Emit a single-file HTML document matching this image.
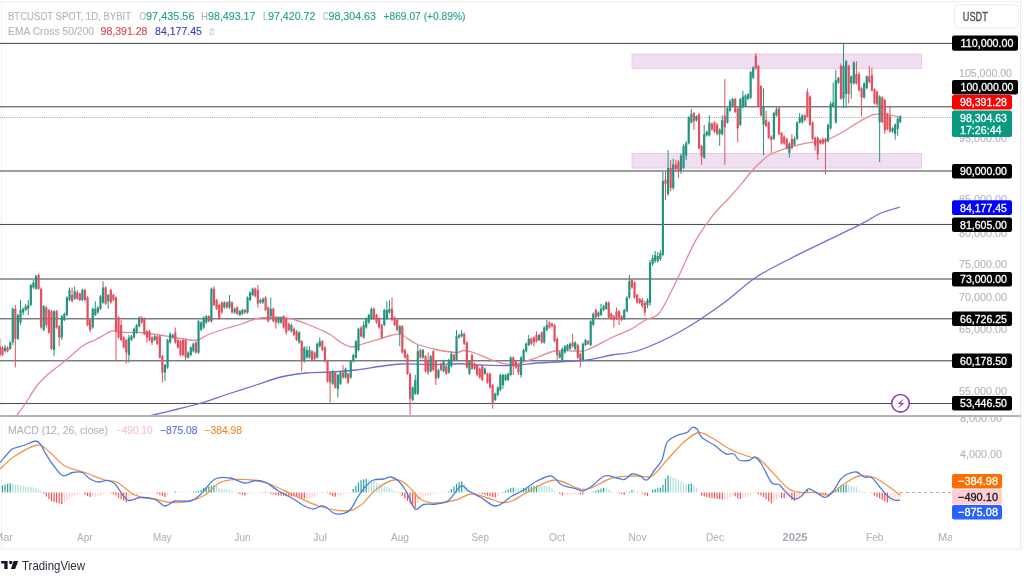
<!DOCTYPE html>
<html><head><meta charset="utf-8"><style>
html,body{margin:0;padding:0;background:#fff;width:1024px;height:576px;overflow:hidden}
svg{display:block;filter:blur(0.4px)}
</style></head><body>
<svg width="1024" height="576" viewBox="0 0 1024 576" font-family="Liberation Sans, sans-serif">
<rect x="0" y="0" width="1024" height="576" fill="#ffffff"/>
<rect x="0" y="1" width="1021" height="1.2" fill="#f0f0f0"/>
<rect x="1" y="1" width="1.2" height="548" fill="#f3f3f3"/>
<rect x="1020" y="1" width="1.2" height="548" fill="#ececec"/>
<rect x="0" y="548.5" width="1021" height="1.2" fill="#efefef"/>
<rect x="954.5" y="4.7" width="64" height="23.3" rx="4" fill="#fff" stroke="#ececec" stroke-width="1"/>
<text x="962.75" y="20.7" textLength="25" lengthAdjust="spacingAndGlyphs" font-size="12" fill="#50535a" stroke="#50535a" stroke-width="0.35">USDT</text>
<rect x="632" y="54" width="289.5" height="14.5" fill="#efdff2" stroke="#f2c9de" stroke-width="1"/>
<rect x="632" y="153.5" width="289.5" height="14.5" fill="#efdff2" stroke="#f2c9de" stroke-width="1"/>
<rect x="0" y="42.85" width="952" height="1.1" fill="#505259"/>
<rect x="0" y="106.25" width="952" height="1.1" fill="#505259"/>
<rect x="0" y="170.45" width="952" height="1.1" fill="#505259"/>
<rect x="0" y="223.95" width="952" height="1.1" fill="#505259"/>
<rect x="0" y="278.45" width="952" height="1.1" fill="#505259"/>
<rect x="0" y="318.25" width="952" height="1.1" fill="#505259"/>
<rect x="0" y="360.25" width="952" height="1.1" fill="#505259"/>
<rect x="0" y="402.95" width="952" height="1.1" fill="#505259"/>
<line x1="0" y1="117.5" x2="952" y2="117.5" stroke="#98b4ae" stroke-width="1" stroke-dasharray="1 1.1"/>
<rect x="0" y="415" width="1021" height="2" fill="#b4b4b4"/>
<g clip-path="url(#pc)">
<path d="M151.00,415.50 C155.50,414.42 169.33,411.17 178.00,409.00 C186.67,406.83 194.67,405.00 203.00,402.50 C211.33,400.00 219.17,396.92 228.00,394.00 C236.83,391.08 247.17,387.83 256.00,385.00 C264.83,382.17 272.67,379.00 281.00,377.00 C289.33,375.00 297.67,373.83 306.00,373.00 C314.33,372.17 322.67,372.50 331.00,372.00 C339.33,371.50 347.67,370.96 356.00,370.00 C364.33,369.04 373.50,367.25 381.00,366.25 C388.50,365.25 392.67,364.29 401.00,364.00 C409.33,363.71 421.00,364.54 431.00,364.50 C441.00,364.46 452.67,363.67 461.00,363.75 C469.33,363.83 472.50,364.71 481.00,365.00 C489.50,365.29 502.67,365.83 512.00,365.50 C521.33,365.17 528.67,363.62 537.00,363.00 C545.33,362.38 553.67,362.25 562.00,361.75 C570.33,361.25 578.67,361.12 587.00,360.00 C595.33,358.88 603.17,356.67 612.00,355.00 C620.83,353.33 628.17,354.17 640.00,350.00 C651.83,345.83 669.04,337.83 683.00,330.00 C696.96,322.17 711.75,311.67 723.75,303.00 C735.75,294.33 743.96,285.38 755.00,278.00 C766.04,270.62 772.50,267.65 790.00,258.75 C807.50,249.85 844.83,232.22 860.00,224.60 C875.17,216.97 874.33,215.93 881.00,213.00 C887.67,210.07 896.83,208.00 900.00,207.00" fill="none" stroke="#6e6ed4" stroke-width="1.3"/>
<path d="M16.70,415.50 C18.08,413.58 21.53,409.08 25.00,404.00 C28.47,398.92 33.33,390.25 37.50,385.00 C41.67,379.75 45.42,376.50 50.00,372.50 C54.58,368.50 59.58,365.42 65.00,361.00 C70.42,356.58 77.50,349.50 82.50,346.00 C87.50,342.50 91.25,341.92 95.00,340.00 C98.75,338.08 102.08,336.00 105.00,334.50 C107.92,333.00 109.17,331.33 112.50,331.00 C115.83,330.67 120.42,332.25 125.00,332.50 C129.58,332.75 134.17,332.08 140.00,332.50 C145.83,332.92 154.17,334.17 160.00,335.00 C165.83,335.83 170.00,336.67 175.00,337.50 C180.00,338.33 186.25,339.58 190.00,340.00 C193.75,340.42 194.58,340.83 197.50,340.00 C200.42,339.17 202.92,336.88 207.50,335.00 C212.08,333.12 219.58,330.50 225.00,328.75 C230.42,327.00 234.83,326.17 240.00,324.50 C245.17,322.83 250.83,319.92 256.00,318.75 C261.17,317.58 265.17,317.50 271.00,317.50 C276.83,317.50 285.17,317.71 291.00,318.75 C296.83,319.79 301.00,321.88 306.00,323.75 C311.00,325.62 316.83,328.12 321.00,330.00 C325.17,331.88 327.67,332.92 331.00,335.00 C334.33,337.08 337.50,340.50 341.00,342.50 C344.50,344.50 348.25,346.79 352.00,347.00 C355.75,347.21 359.50,344.92 363.50,343.75 C367.50,342.58 371.42,341.38 376.00,340.00 C380.58,338.62 386.83,336.42 391.00,335.50 C395.17,334.58 396.83,333.12 401.00,334.50 C405.17,335.88 410.17,341.25 416.00,343.75 C421.83,346.25 429.33,348.04 436.00,349.50 C442.67,350.96 451.42,352.33 456.00,352.50 C460.58,352.67 460.58,350.50 463.50,350.50 C466.42,350.50 468.50,350.83 473.50,352.50 C478.50,354.17 487.08,358.50 493.50,360.50 C499.92,362.50 504.75,365.00 512.00,364.50 C519.25,364.00 529.92,359.75 537.00,357.50 C544.08,355.25 547.83,352.08 554.50,351.00 C561.17,349.92 571.58,351.17 577.00,351.00 C582.42,350.83 581.17,352.25 587.00,350.00 C592.83,347.75 604.83,340.88 612.00,337.50 C619.17,334.12 624.40,332.62 630.00,329.70 C635.60,326.78 640.65,322.87 645.60,320.00 C650.55,317.13 654.47,319.22 659.70,312.50 C664.93,305.78 671.02,291.68 677.00,279.70 C682.98,267.72 689.43,251.55 695.60,240.60 C701.77,229.65 708.73,220.77 714.00,214.00 C719.27,207.23 722.70,204.93 727.20,200.00 C731.70,195.07 736.83,189.32 741.00,184.40 C745.17,179.48 748.93,174.20 752.20,170.50 C755.47,166.80 757.82,164.73 760.60,162.20 C763.38,159.67 764.73,157.62 768.90,155.30 C773.07,152.98 779.12,150.38 785.60,148.30 C792.08,146.22 801.33,144.08 807.80,142.80 C814.27,141.52 818.87,142.23 824.40,140.60 C829.93,138.97 836.37,135.43 841.00,133.00 C845.63,130.57 848.03,128.53 852.20,126.00 C856.37,123.47 862.30,119.73 866.00,117.80 C869.70,115.87 871.15,114.97 874.40,114.40 C877.65,113.83 881.10,113.93 885.50,114.40 C889.90,114.87 898.25,116.73 900.80,117.20" fill="none" stroke="#e58a92" stroke-width="1.3"/>
<rect x="-0.64" y="338.75" width="1" height="18.75" fill="#e2505f"/>
<rect x="-1.24" y="346.25" width="2.2" height="8.75" fill="#e2505f"/>
<rect x="1.94" y="346.25" width="1" height="10.00" fill="#e2505f"/>
<rect x="1.34" y="347.50" width="2.2" height="7.50" fill="#e2505f"/>
<rect x="4.52" y="345.00" width="1" height="7.50" fill="#23947f"/>
<rect x="3.92" y="347.50" width="2.2" height="3.75" fill="#23947f"/>
<rect x="7.10" y="346.25" width="1" height="6.25" fill="#e2505f"/>
<rect x="6.50" y="347.50" width="2.2" height="3.75" fill="#e2505f"/>
<rect x="9.68" y="341.25" width="1" height="8.75" fill="#23947f"/>
<rect x="9.08" y="342.50" width="2.2" height="6.25" fill="#23947f"/>
<rect x="12.26" y="307.50" width="1" height="37.50" fill="#23947f"/>
<rect x="11.66" y="308.75" width="2.2" height="33.75" fill="#23947f"/>
<rect x="14.84" y="305.00" width="1" height="62.50" fill="#e2505f"/>
<rect x="14.24" y="308.75" width="2.2" height="30.00" fill="#e2505f"/>
<rect x="17.42" y="313.75" width="1" height="26.25" fill="#23947f"/>
<rect x="16.82" y="315.00" width="2.2" height="23.75" fill="#23947f"/>
<rect x="20.00" y="300.00" width="1" height="25.00" fill="#23947f"/>
<rect x="19.40" y="310.00" width="2.2" height="12.50" fill="#23947f"/>
<rect x="22.58" y="307.50" width="1" height="7.50" fill="#23947f"/>
<rect x="21.98" y="308.75" width="2.2" height="3.75" fill="#23947f"/>
<rect x="25.16" y="303.75" width="1" height="7.50" fill="#23947f"/>
<rect x="24.56" y="306.25" width="2.2" height="3.75" fill="#23947f"/>
<rect x="27.74" y="300.00" width="1" height="15.00" fill="#23947f"/>
<rect x="27.14" y="305.00" width="2.2" height="3.75" fill="#23947f"/>
<rect x="30.32" y="283.75" width="1" height="22.50" fill="#23947f"/>
<rect x="29.72" y="285.00" width="2.2" height="20.00" fill="#23947f"/>
<rect x="32.90" y="280.00" width="1" height="8.75" fill="#23947f"/>
<rect x="32.30" y="282.50" width="2.2" height="5.00" fill="#23947f"/>
<rect x="35.48" y="274.50" width="1" height="15.50" fill="#23947f"/>
<rect x="34.88" y="276.25" width="2.2" height="12.50" fill="#23947f"/>
<rect x="38.06" y="273.75" width="1" height="16.25" fill="#e2505f"/>
<rect x="37.46" y="275.00" width="2.2" height="13.75" fill="#e2505f"/>
<rect x="40.64" y="287.50" width="1" height="41.25" fill="#e2505f"/>
<rect x="40.04" y="288.75" width="2.2" height="38.75" fill="#e2505f"/>
<rect x="43.22" y="305.00" width="1" height="26.25" fill="#23947f"/>
<rect x="42.62" y="306.25" width="2.2" height="23.75" fill="#23947f"/>
<rect x="45.80" y="306.25" width="1" height="21.25" fill="#e2505f"/>
<rect x="45.20" y="307.50" width="2.2" height="17.50" fill="#e2505f"/>
<rect x="48.38" y="308.75" width="1" height="25.00" fill="#e2505f"/>
<rect x="47.78" y="310.00" width="2.2" height="22.50" fill="#e2505f"/>
<rect x="50.96" y="310.00" width="1" height="40.00" fill="#e2505f"/>
<rect x="50.36" y="311.25" width="2.2" height="37.50" fill="#e2505f"/>
<rect x="53.54" y="310.00" width="1" height="46.25" fill="#23947f"/>
<rect x="52.94" y="311.25" width="2.2" height="38.75" fill="#23947f"/>
<rect x="56.12" y="310.00" width="1" height="18.75" fill="#e2505f"/>
<rect x="55.52" y="311.25" width="2.2" height="16.25" fill="#e2505f"/>
<rect x="58.70" y="325.00" width="1" height="21.25" fill="#e2505f"/>
<rect x="58.10" y="326.25" width="2.2" height="11.25" fill="#e2505f"/>
<rect x="61.28" y="315.00" width="1" height="25.00" fill="#23947f"/>
<rect x="60.68" y="316.25" width="2.2" height="21.25" fill="#23947f"/>
<rect x="63.86" y="312.50" width="1" height="8.75" fill="#23947f"/>
<rect x="63.26" y="313.75" width="2.2" height="6.25" fill="#23947f"/>
<rect x="66.44" y="296.25" width="1" height="20.00" fill="#23947f"/>
<rect x="65.84" y="297.50" width="2.2" height="17.50" fill="#23947f"/>
<rect x="69.02" y="287.50" width="1" height="13.75" fill="#23947f"/>
<rect x="68.42" y="290.00" width="2.2" height="10.00" fill="#23947f"/>
<rect x="71.60" y="287.50" width="1" height="15.00" fill="#e2505f"/>
<rect x="71.00" y="295.00" width="2.2" height="6.25" fill="#e2505f"/>
<rect x="74.18" y="286.25" width="1" height="13.75" fill="#23947f"/>
<rect x="73.58" y="291.25" width="2.2" height="7.50" fill="#23947f"/>
<rect x="76.76" y="290.00" width="1" height="10.00" fill="#e2505f"/>
<rect x="76.16" y="292.50" width="2.2" height="6.25" fill="#e2505f"/>
<rect x="79.34" y="292.50" width="1" height="8.75" fill="#e2505f"/>
<rect x="78.74" y="293.75" width="2.2" height="6.25" fill="#e2505f"/>
<rect x="81.92" y="288.75" width="1" height="12.50" fill="#23947f"/>
<rect x="81.32" y="290.00" width="2.2" height="10.00" fill="#23947f"/>
<rect x="84.50" y="288.75" width="1" height="12.50" fill="#e2505f"/>
<rect x="83.90" y="290.00" width="2.2" height="10.00" fill="#e2505f"/>
<rect x="87.08" y="296.25" width="1" height="30.00" fill="#e2505f"/>
<rect x="86.48" y="297.50" width="2.2" height="27.50" fill="#e2505f"/>
<rect x="89.66" y="318.75" width="1" height="13.75" fill="#e2505f"/>
<rect x="89.06" y="320.00" width="2.2" height="10.00" fill="#e2505f"/>
<rect x="92.24" y="307.50" width="1" height="21.25" fill="#23947f"/>
<rect x="91.64" y="308.75" width="2.2" height="18.75" fill="#23947f"/>
<rect x="94.82" y="301.25" width="1" height="15.00" fill="#23947f"/>
<rect x="94.22" y="308.75" width="2.2" height="6.25" fill="#23947f"/>
<rect x="97.40" y="306.25" width="1" height="7.50" fill="#23947f"/>
<rect x="96.80" y="307.50" width="2.2" height="5.00" fill="#23947f"/>
<rect x="99.98" y="295.00" width="1" height="15.00" fill="#23947f"/>
<rect x="99.38" y="296.25" width="2.2" height="12.50" fill="#23947f"/>
<rect x="102.56" y="281.25" width="1" height="22.50" fill="#23947f"/>
<rect x="101.96" y="287.50" width="2.2" height="15.00" fill="#23947f"/>
<rect x="105.14" y="286.25" width="1" height="18.75" fill="#e2505f"/>
<rect x="104.54" y="287.50" width="2.2" height="16.25" fill="#e2505f"/>
<rect x="107.72" y="293.75" width="1" height="15.00" fill="#23947f"/>
<rect x="107.12" y="295.00" width="2.2" height="6.25" fill="#23947f"/>
<rect x="110.30" y="288.75" width="1" height="15.00" fill="#e2505f"/>
<rect x="109.70" y="290.00" width="2.2" height="12.50" fill="#e2505f"/>
<rect x="112.88" y="293.75" width="1" height="7.50" fill="#e2505f"/>
<rect x="112.28" y="295.00" width="2.2" height="5.00" fill="#e2505f"/>
<rect x="115.46" y="296.25" width="1" height="65.00" fill="#e2505f"/>
<rect x="114.86" y="297.50" width="2.2" height="33.75" fill="#e2505f"/>
<rect x="118.04" y="316.25" width="1" height="22.50" fill="#e2505f"/>
<rect x="117.44" y="317.50" width="2.2" height="20.00" fill="#e2505f"/>
<rect x="120.62" y="320.00" width="1" height="21.25" fill="#e2505f"/>
<rect x="120.02" y="325.00" width="2.2" height="15.00" fill="#e2505f"/>
<rect x="123.20" y="336.25" width="1" height="12.50" fill="#e2505f"/>
<rect x="122.60" y="337.50" width="2.2" height="10.00" fill="#e2505f"/>
<rect x="125.78" y="338.75" width="1" height="25.00" fill="#e2505f"/>
<rect x="125.18" y="340.00" width="2.2" height="12.50" fill="#e2505f"/>
<rect x="128.36" y="335.00" width="1" height="27.50" fill="#23947f"/>
<rect x="127.76" y="337.50" width="2.2" height="17.50" fill="#23947f"/>
<rect x="130.94" y="335.00" width="1" height="6.25" fill="#23947f"/>
<rect x="130.34" y="336.25" width="2.2" height="3.75" fill="#23947f"/>
<rect x="133.52" y="327.50" width="1" height="11.25" fill="#23947f"/>
<rect x="132.92" y="328.75" width="2.2" height="8.75" fill="#23947f"/>
<rect x="136.10" y="323.75" width="1" height="10.00" fill="#23947f"/>
<rect x="135.50" y="325.00" width="2.2" height="7.50" fill="#23947f"/>
<rect x="138.68" y="316.25" width="1" height="11.25" fill="#23947f"/>
<rect x="138.08" y="317.50" width="2.2" height="8.75" fill="#23947f"/>
<rect x="141.26" y="316.25" width="1" height="7.50" fill="#e2505f"/>
<rect x="140.66" y="317.50" width="2.2" height="5.00" fill="#e2505f"/>
<rect x="143.84" y="317.50" width="1" height="17.50" fill="#e2505f"/>
<rect x="143.24" y="318.75" width="2.2" height="15.00" fill="#e2505f"/>
<rect x="146.42" y="330.00" width="1" height="12.50" fill="#e2505f"/>
<rect x="145.82" y="331.25" width="2.2" height="6.25" fill="#e2505f"/>
<rect x="149.00" y="330.00" width="1" height="11.25" fill="#e2505f"/>
<rect x="148.40" y="331.25" width="2.2" height="8.75" fill="#e2505f"/>
<rect x="151.58" y="336.25" width="1" height="8.75" fill="#e2505f"/>
<rect x="150.98" y="337.50" width="2.2" height="5.00" fill="#e2505f"/>
<rect x="154.16" y="335.00" width="1" height="6.25" fill="#23947f"/>
<rect x="153.56" y="336.25" width="2.2" height="3.75" fill="#23947f"/>
<rect x="156.74" y="335.00" width="1" height="10.00" fill="#e2505f"/>
<rect x="156.14" y="336.25" width="2.2" height="7.50" fill="#e2505f"/>
<rect x="159.32" y="335.00" width="1" height="23.75" fill="#e2505f"/>
<rect x="158.72" y="336.25" width="2.2" height="21.25" fill="#e2505f"/>
<rect x="161.90" y="355.00" width="1" height="27.50" fill="#e2505f"/>
<rect x="161.30" y="356.25" width="2.2" height="16.25" fill="#e2505f"/>
<rect x="164.48" y="363.75" width="1" height="17.50" fill="#23947f"/>
<rect x="163.88" y="365.00" width="2.2" height="7.50" fill="#23947f"/>
<rect x="167.06" y="338.75" width="1" height="30.00" fill="#23947f"/>
<rect x="166.46" y="340.00" width="2.2" height="27.50" fill="#23947f"/>
<rect x="169.64" y="332.50" width="1" height="11.25" fill="#23947f"/>
<rect x="169.04" y="333.75" width="2.2" height="8.75" fill="#23947f"/>
<rect x="172.22" y="333.75" width="1" height="5.00" fill="#23947f"/>
<rect x="171.62" y="335.00" width="2.2" height="2.50" fill="#23947f"/>
<rect x="174.80" y="327.50" width="1" height="16.25" fill="#e2505f"/>
<rect x="174.20" y="332.50" width="2.2" height="10.00" fill="#e2505f"/>
<rect x="177.38" y="338.75" width="1" height="10.00" fill="#e2505f"/>
<rect x="176.78" y="340.00" width="2.2" height="7.50" fill="#e2505f"/>
<rect x="179.96" y="340.00" width="1" height="16.25" fill="#e2505f"/>
<rect x="179.36" y="341.25" width="2.2" height="13.75" fill="#e2505f"/>
<rect x="182.54" y="338.75" width="1" height="17.50" fill="#e2505f"/>
<rect x="181.94" y="340.00" width="2.2" height="15.00" fill="#e2505f"/>
<rect x="185.12" y="338.75" width="1" height="21.25" fill="#e2505f"/>
<rect x="184.52" y="340.00" width="2.2" height="17.50" fill="#e2505f"/>
<rect x="187.70" y="351.25" width="1" height="7.50" fill="#23947f"/>
<rect x="187.10" y="352.50" width="2.2" height="5.00" fill="#23947f"/>
<rect x="190.28" y="346.25" width="1" height="10.00" fill="#23947f"/>
<rect x="189.68" y="347.50" width="2.2" height="7.50" fill="#23947f"/>
<rect x="192.86" y="342.50" width="1" height="10.00" fill="#23947f"/>
<rect x="192.26" y="343.75" width="2.2" height="7.50" fill="#23947f"/>
<rect x="195.44" y="341.25" width="1" height="12.50" fill="#e2505f"/>
<rect x="194.84" y="342.50" width="2.2" height="10.00" fill="#e2505f"/>
<rect x="198.02" y="320.00" width="1" height="33.75" fill="#23947f"/>
<rect x="197.42" y="321.25" width="2.2" height="31.25" fill="#23947f"/>
<rect x="200.60" y="321.25" width="1" height="10.00" fill="#23947f"/>
<rect x="200.00" y="322.50" width="2.2" height="7.50" fill="#23947f"/>
<rect x="203.18" y="316.25" width="1" height="12.50" fill="#23947f"/>
<rect x="202.58" y="317.50" width="2.2" height="10.00" fill="#23947f"/>
<rect x="205.76" y="315.00" width="1" height="8.75" fill="#23947f"/>
<rect x="205.16" y="316.25" width="2.2" height="6.25" fill="#23947f"/>
<rect x="208.34" y="315.00" width="1" height="7.50" fill="#e2505f"/>
<rect x="207.74" y="316.25" width="2.2" height="5.00" fill="#e2505f"/>
<rect x="210.92" y="287.50" width="1" height="35.00" fill="#23947f"/>
<rect x="210.32" y="288.75" width="2.2" height="32.50" fill="#23947f"/>
<rect x="213.50" y="286.25" width="1" height="20.00" fill="#e2505f"/>
<rect x="212.90" y="288.75" width="2.2" height="16.25" fill="#e2505f"/>
<rect x="216.08" y="298.75" width="1" height="11.25" fill="#e2505f"/>
<rect x="215.48" y="300.00" width="2.2" height="8.75" fill="#e2505f"/>
<rect x="218.66" y="303.75" width="1" height="16.25" fill="#e2505f"/>
<rect x="218.06" y="305.00" width="2.2" height="13.75" fill="#e2505f"/>
<rect x="221.24" y="301.25" width="1" height="12.50" fill="#e2505f"/>
<rect x="220.64" y="302.50" width="2.2" height="10.00" fill="#e2505f"/>
<rect x="223.82" y="301.25" width="1" height="7.50" fill="#23947f"/>
<rect x="223.22" y="302.50" width="2.2" height="5.00" fill="#23947f"/>
<rect x="226.40" y="301.25" width="1" height="7.50" fill="#e2505f"/>
<rect x="225.80" y="302.50" width="2.2" height="5.00" fill="#e2505f"/>
<rect x="228.98" y="295.00" width="1" height="13.75" fill="#23947f"/>
<rect x="228.38" y="301.25" width="2.2" height="6.25" fill="#23947f"/>
<rect x="231.56" y="301.25" width="1" height="12.50" fill="#e2505f"/>
<rect x="230.96" y="302.50" width="2.2" height="10.00" fill="#e2505f"/>
<rect x="234.14" y="307.50" width="1" height="6.25" fill="#23947f"/>
<rect x="233.54" y="308.75" width="2.2" height="3.75" fill="#23947f"/>
<rect x="236.72" y="306.25" width="1" height="8.75" fill="#e2505f"/>
<rect x="236.12" y="307.50" width="2.2" height="6.25" fill="#e2505f"/>
<rect x="239.30" y="310.00" width="1" height="6.25" fill="#23947f"/>
<rect x="238.70" y="311.25" width="2.2" height="3.75" fill="#23947f"/>
<rect x="241.88" y="308.75" width="1" height="6.25" fill="#23947f"/>
<rect x="241.28" y="310.00" width="2.2" height="3.75" fill="#23947f"/>
<rect x="244.46" y="308.75" width="1" height="5.00" fill="#e2505f"/>
<rect x="243.86" y="310.00" width="2.2" height="2.50" fill="#e2505f"/>
<rect x="247.04" y="296.25" width="1" height="17.50" fill="#23947f"/>
<rect x="246.44" y="297.50" width="2.2" height="15.00" fill="#23947f"/>
<rect x="249.62" y="291.25" width="1" height="10.00" fill="#23947f"/>
<rect x="249.02" y="292.50" width="2.2" height="7.50" fill="#23947f"/>
<rect x="252.20" y="287.50" width="1" height="8.75" fill="#23947f"/>
<rect x="251.60" y="288.75" width="2.2" height="6.25" fill="#23947f"/>
<rect x="254.78" y="287.50" width="1" height="10.00" fill="#e2505f"/>
<rect x="254.18" y="288.75" width="2.2" height="7.50" fill="#e2505f"/>
<rect x="257.36" y="285.00" width="1" height="22.50" fill="#e2505f"/>
<rect x="256.76" y="290.00" width="2.2" height="13.75" fill="#e2505f"/>
<rect x="259.94" y="298.75" width="1" height="5.00" fill="#23947f"/>
<rect x="259.34" y="300.00" width="2.2" height="2.50" fill="#23947f"/>
<rect x="262.52" y="297.50" width="1" height="6.25" fill="#23947f"/>
<rect x="261.92" y="298.75" width="2.2" height="3.75" fill="#23947f"/>
<rect x="265.10" y="296.25" width="1" height="15.00" fill="#e2505f"/>
<rect x="264.50" y="297.50" width="2.2" height="12.50" fill="#e2505f"/>
<rect x="267.68" y="306.25" width="1" height="16.25" fill="#e2505f"/>
<rect x="267.08" y="307.50" width="2.2" height="13.75" fill="#e2505f"/>
<rect x="270.26" y="297.50" width="1" height="20.00" fill="#23947f"/>
<rect x="269.66" y="308.75" width="2.2" height="7.50" fill="#23947f"/>
<rect x="272.84" y="307.50" width="1" height="15.00" fill="#e2505f"/>
<rect x="272.24" y="308.75" width="2.2" height="12.50" fill="#e2505f"/>
<rect x="275.42" y="316.25" width="1" height="12.50" fill="#e2505f"/>
<rect x="274.82" y="317.50" width="2.2" height="5.00" fill="#e2505f"/>
<rect x="278.00" y="316.25" width="1" height="7.50" fill="#23947f"/>
<rect x="277.40" y="317.50" width="2.2" height="5.00" fill="#23947f"/>
<rect x="280.58" y="316.25" width="1" height="7.50" fill="#23947f"/>
<rect x="279.98" y="317.50" width="2.2" height="5.00" fill="#23947f"/>
<rect x="283.16" y="315.00" width="1" height="13.75" fill="#e2505f"/>
<rect x="282.56" y="316.25" width="2.2" height="11.25" fill="#e2505f"/>
<rect x="285.74" y="317.50" width="1" height="17.50" fill="#e2505f"/>
<rect x="285.14" y="318.75" width="2.2" height="13.75" fill="#e2505f"/>
<rect x="288.32" y="322.50" width="1" height="8.75" fill="#e2505f"/>
<rect x="287.72" y="323.75" width="2.2" height="6.25" fill="#e2505f"/>
<rect x="290.90" y="323.75" width="1" height="8.75" fill="#23947f"/>
<rect x="290.30" y="325.00" width="2.2" height="6.25" fill="#23947f"/>
<rect x="293.48" y="327.50" width="1" height="8.75" fill="#e2505f"/>
<rect x="292.88" y="328.75" width="2.2" height="6.25" fill="#e2505f"/>
<rect x="296.06" y="330.00" width="1" height="11.25" fill="#e2505f"/>
<rect x="295.46" y="331.25" width="2.2" height="8.75" fill="#e2505f"/>
<rect x="298.64" y="331.25" width="1" height="12.50" fill="#23947f"/>
<rect x="298.04" y="332.50" width="2.2" height="10.00" fill="#23947f"/>
<rect x="301.22" y="340.00" width="1" height="31.25" fill="#e2505f"/>
<rect x="300.62" y="341.25" width="2.2" height="20.00" fill="#e2505f"/>
<rect x="303.80" y="346.25" width="1" height="16.25" fill="#23947f"/>
<rect x="303.20" y="347.50" width="2.2" height="13.75" fill="#23947f"/>
<rect x="306.38" y="346.25" width="1" height="12.50" fill="#23947f"/>
<rect x="305.78" y="350.00" width="2.2" height="7.50" fill="#23947f"/>
<rect x="308.96" y="346.25" width="1" height="12.50" fill="#23947f"/>
<rect x="308.36" y="350.00" width="2.2" height="7.50" fill="#23947f"/>
<rect x="311.54" y="350.00" width="1" height="11.25" fill="#e2505f"/>
<rect x="310.94" y="351.25" width="2.2" height="8.75" fill="#e2505f"/>
<rect x="314.12" y="351.25" width="1" height="8.75" fill="#e2505f"/>
<rect x="313.52" y="352.50" width="2.2" height="6.25" fill="#e2505f"/>
<rect x="316.70" y="342.50" width="1" height="16.25" fill="#23947f"/>
<rect x="316.10" y="343.75" width="2.2" height="13.75" fill="#23947f"/>
<rect x="319.28" y="337.50" width="1" height="10.00" fill="#23947f"/>
<rect x="318.68" y="341.25" width="2.2" height="5.00" fill="#23947f"/>
<rect x="321.86" y="340.00" width="1" height="11.25" fill="#e2505f"/>
<rect x="321.26" y="341.25" width="2.2" height="8.75" fill="#e2505f"/>
<rect x="324.44" y="346.25" width="1" height="16.25" fill="#e2505f"/>
<rect x="323.84" y="347.50" width="2.2" height="13.75" fill="#e2505f"/>
<rect x="327.02" y="360.00" width="1" height="22.50" fill="#e2505f"/>
<rect x="326.42" y="361.25" width="2.2" height="20.00" fill="#e2505f"/>
<rect x="329.60" y="371.25" width="1" height="31.25" fill="#e2505f"/>
<rect x="329.00" y="372.50" width="2.2" height="10.00" fill="#e2505f"/>
<rect x="332.18" y="370.00" width="1" height="15.00" fill="#23947f"/>
<rect x="331.58" y="371.25" width="2.2" height="12.50" fill="#23947f"/>
<rect x="334.76" y="371.25" width="1" height="17.50" fill="#e2505f"/>
<rect x="334.16" y="372.50" width="2.2" height="15.00" fill="#e2505f"/>
<rect x="337.34" y="373.75" width="1" height="23.75" fill="#23947f"/>
<rect x="336.74" y="375.00" width="2.2" height="13.75" fill="#23947f"/>
<rect x="339.92" y="371.25" width="1" height="13.75" fill="#23947f"/>
<rect x="339.32" y="372.50" width="2.2" height="11.25" fill="#23947f"/>
<rect x="342.50" y="365.00" width="1" height="13.75" fill="#e2505f"/>
<rect x="341.90" y="372.50" width="2.2" height="5.00" fill="#e2505f"/>
<rect x="345.08" y="367.50" width="1" height="11.25" fill="#23947f"/>
<rect x="344.48" y="368.75" width="2.2" height="8.75" fill="#23947f"/>
<rect x="347.66" y="372.50" width="1" height="11.25" fill="#e2505f"/>
<rect x="347.06" y="373.75" width="2.2" height="8.75" fill="#e2505f"/>
<rect x="350.24" y="360.00" width="1" height="18.75" fill="#23947f"/>
<rect x="349.64" y="361.25" width="2.2" height="16.25" fill="#23947f"/>
<rect x="352.82" y="353.75" width="1" height="8.75" fill="#23947f"/>
<rect x="352.22" y="355.00" width="2.2" height="6.25" fill="#23947f"/>
<rect x="355.40" y="340.00" width="1" height="18.75" fill="#23947f"/>
<rect x="354.80" y="341.25" width="2.2" height="16.25" fill="#23947f"/>
<rect x="357.98" y="327.50" width="1" height="23.75" fill="#23947f"/>
<rect x="357.38" y="328.75" width="2.2" height="21.25" fill="#23947f"/>
<rect x="360.56" y="326.25" width="1" height="11.25" fill="#e2505f"/>
<rect x="359.96" y="327.50" width="2.2" height="8.75" fill="#e2505f"/>
<rect x="363.14" y="321.25" width="1" height="17.50" fill="#23947f"/>
<rect x="362.54" y="325.00" width="2.2" height="12.50" fill="#23947f"/>
<rect x="365.72" y="317.50" width="1" height="11.25" fill="#23947f"/>
<rect x="365.12" y="318.75" width="2.2" height="8.75" fill="#23947f"/>
<rect x="368.30" y="313.75" width="1" height="10.00" fill="#23947f"/>
<rect x="367.70" y="315.00" width="2.2" height="7.50" fill="#23947f"/>
<rect x="370.88" y="307.50" width="1" height="12.50" fill="#23947f"/>
<rect x="370.28" y="308.75" width="2.2" height="10.00" fill="#23947f"/>
<rect x="373.46" y="307.50" width="1" height="12.50" fill="#e2505f"/>
<rect x="372.86" y="308.75" width="2.2" height="10.00" fill="#e2505f"/>
<rect x="376.04" y="313.75" width="1" height="10.00" fill="#e2505f"/>
<rect x="375.44" y="315.00" width="2.2" height="7.50" fill="#e2505f"/>
<rect x="378.62" y="317.50" width="1" height="11.25" fill="#e2505f"/>
<rect x="378.02" y="318.75" width="2.2" height="8.75" fill="#e2505f"/>
<rect x="381.20" y="323.75" width="1" height="15.00" fill="#e2505f"/>
<rect x="380.60" y="325.00" width="2.2" height="12.50" fill="#e2505f"/>
<rect x="383.78" y="308.75" width="1" height="17.50" fill="#23947f"/>
<rect x="383.18" y="310.00" width="2.2" height="15.00" fill="#23947f"/>
<rect x="386.36" y="301.25" width="1" height="18.75" fill="#23947f"/>
<rect x="385.76" y="310.00" width="2.2" height="8.75" fill="#23947f"/>
<rect x="388.94" y="300.00" width="1" height="13.75" fill="#23947f"/>
<rect x="388.34" y="308.75" width="2.2" height="3.75" fill="#23947f"/>
<rect x="391.52" y="297.50" width="1" height="23.75" fill="#e2505f"/>
<rect x="390.92" y="308.75" width="2.2" height="11.25" fill="#e2505f"/>
<rect x="394.10" y="316.25" width="1" height="10.00" fill="#e2505f"/>
<rect x="393.50" y="317.50" width="2.2" height="7.50" fill="#e2505f"/>
<rect x="396.68" y="318.75" width="1" height="12.50" fill="#e2505f"/>
<rect x="396.08" y="320.00" width="2.2" height="10.00" fill="#e2505f"/>
<rect x="399.26" y="325.00" width="1" height="21.25" fill="#23947f"/>
<rect x="398.66" y="326.25" width="2.2" height="7.50" fill="#23947f"/>
<rect x="401.84" y="325.00" width="1" height="28.75" fill="#e2505f"/>
<rect x="401.24" y="326.25" width="2.2" height="26.25" fill="#e2505f"/>
<rect x="404.42" y="348.75" width="1" height="10.00" fill="#e2505f"/>
<rect x="403.82" y="350.00" width="2.2" height="7.50" fill="#e2505f"/>
<rect x="407.00" y="353.75" width="1" height="21.25" fill="#e2505f"/>
<rect x="406.40" y="355.00" width="2.2" height="18.75" fill="#e2505f"/>
<rect x="409.58" y="372.50" width="1" height="42.50" fill="#e2505f"/>
<rect x="408.98" y="373.75" width="2.2" height="25.00" fill="#e2505f"/>
<rect x="412.16" y="386.25" width="1" height="15.00" fill="#23947f"/>
<rect x="411.56" y="387.50" width="2.2" height="12.50" fill="#23947f"/>
<rect x="414.74" y="375.00" width="1" height="20.00" fill="#23947f"/>
<rect x="414.14" y="380.00" width="2.2" height="13.75" fill="#23947f"/>
<rect x="417.32" y="345.00" width="1" height="50.00" fill="#23947f"/>
<rect x="416.72" y="351.25" width="2.2" height="42.50" fill="#23947f"/>
<rect x="419.90" y="348.75" width="1" height="10.00" fill="#e2505f"/>
<rect x="419.30" y="350.00" width="2.2" height="7.50" fill="#e2505f"/>
<rect x="422.48" y="348.75" width="1" height="10.00" fill="#23947f"/>
<rect x="421.88" y="350.00" width="2.2" height="7.50" fill="#23947f"/>
<rect x="425.06" y="355.00" width="1" height="17.50" fill="#e2505f"/>
<rect x="424.46" y="356.25" width="2.2" height="15.00" fill="#e2505f"/>
<rect x="427.64" y="352.50" width="1" height="22.50" fill="#e2505f"/>
<rect x="427.04" y="360.00" width="2.2" height="12.50" fill="#e2505f"/>
<rect x="430.22" y="355.00" width="1" height="17.50" fill="#23947f"/>
<rect x="429.62" y="356.25" width="2.2" height="15.00" fill="#23947f"/>
<rect x="432.80" y="350.00" width="1" height="21.25" fill="#e2505f"/>
<rect x="432.20" y="351.25" width="2.2" height="18.75" fill="#e2505f"/>
<rect x="435.38" y="360.00" width="1" height="25.00" fill="#e2505f"/>
<rect x="434.78" y="361.25" width="2.2" height="17.50" fill="#e2505f"/>
<rect x="437.96" y="368.75" width="1" height="10.00" fill="#23947f"/>
<rect x="437.36" y="370.00" width="2.2" height="7.50" fill="#23947f"/>
<rect x="440.54" y="362.50" width="1" height="8.75" fill="#e2505f"/>
<rect x="439.94" y="363.75" width="2.2" height="6.25" fill="#e2505f"/>
<rect x="443.12" y="360.00" width="1" height="12.50" fill="#23947f"/>
<rect x="442.52" y="361.25" width="2.2" height="10.00" fill="#23947f"/>
<rect x="445.70" y="365.00" width="1" height="10.00" fill="#e2505f"/>
<rect x="445.10" y="366.25" width="2.2" height="7.50" fill="#e2505f"/>
<rect x="448.28" y="358.75" width="1" height="15.00" fill="#23947f"/>
<rect x="447.68" y="360.00" width="2.2" height="12.50" fill="#23947f"/>
<rect x="450.86" y="351.25" width="1" height="16.25" fill="#23947f"/>
<rect x="450.26" y="353.75" width="2.2" height="12.50" fill="#23947f"/>
<rect x="453.44" y="353.75" width="1" height="7.50" fill="#e2505f"/>
<rect x="452.84" y="355.00" width="2.2" height="5.00" fill="#e2505f"/>
<rect x="456.02" y="330.00" width="1" height="31.25" fill="#23947f"/>
<rect x="455.42" y="336.25" width="2.2" height="23.75" fill="#23947f"/>
<rect x="458.60" y="333.75" width="1" height="5.00" fill="#23947f"/>
<rect x="458.00" y="335.00" width="2.2" height="2.50" fill="#23947f"/>
<rect x="461.18" y="330.00" width="1" height="7.50" fill="#23947f"/>
<rect x="460.58" y="333.75" width="2.2" height="2.50" fill="#23947f"/>
<rect x="463.76" y="332.50" width="1" height="12.50" fill="#e2505f"/>
<rect x="463.16" y="333.75" width="2.2" height="10.00" fill="#e2505f"/>
<rect x="466.34" y="341.25" width="1" height="27.50" fill="#e2505f"/>
<rect x="465.74" y="342.50" width="2.2" height="25.00" fill="#e2505f"/>
<rect x="468.92" y="360.00" width="1" height="15.00" fill="#23947f"/>
<rect x="468.32" y="361.25" width="2.2" height="12.50" fill="#23947f"/>
<rect x="471.50" y="353.75" width="1" height="16.25" fill="#e2505f"/>
<rect x="470.90" y="355.00" width="2.2" height="13.75" fill="#e2505f"/>
<rect x="474.08" y="362.50" width="1" height="7.50" fill="#e2505f"/>
<rect x="473.48" y="363.75" width="2.2" height="5.00" fill="#e2505f"/>
<rect x="476.66" y="363.75" width="1" height="12.50" fill="#e2505f"/>
<rect x="476.06" y="365.00" width="2.2" height="10.00" fill="#e2505f"/>
<rect x="479.24" y="367.50" width="1" height="11.25" fill="#e2505f"/>
<rect x="478.64" y="368.75" width="2.2" height="8.75" fill="#e2505f"/>
<rect x="481.82" y="365.00" width="1" height="16.25" fill="#e2505f"/>
<rect x="481.22" y="366.25" width="2.2" height="13.75" fill="#e2505f"/>
<rect x="484.40" y="367.50" width="1" height="7.50" fill="#23947f"/>
<rect x="483.80" y="368.75" width="2.2" height="5.00" fill="#23947f"/>
<rect x="486.98" y="372.50" width="1" height="11.25" fill="#e2505f"/>
<rect x="486.38" y="373.75" width="2.2" height="8.75" fill="#e2505f"/>
<rect x="489.56" y="372.50" width="1" height="16.25" fill="#e2505f"/>
<rect x="488.96" y="373.75" width="2.2" height="13.75" fill="#e2505f"/>
<rect x="492.14" y="383.75" width="1" height="25.00" fill="#e2505f"/>
<rect x="491.54" y="385.00" width="2.2" height="17.50" fill="#e2505f"/>
<rect x="494.72" y="392.50" width="1" height="8.75" fill="#23947f"/>
<rect x="494.12" y="393.75" width="2.2" height="6.25" fill="#23947f"/>
<rect x="497.30" y="386.25" width="1" height="10.00" fill="#23947f"/>
<rect x="496.70" y="387.50" width="2.2" height="7.50" fill="#23947f"/>
<rect x="499.88" y="373.75" width="1" height="17.50" fill="#23947f"/>
<rect x="499.28" y="375.00" width="2.2" height="15.00" fill="#23947f"/>
<rect x="502.46" y="373.75" width="1" height="15.00" fill="#23947f"/>
<rect x="501.86" y="375.00" width="2.2" height="10.00" fill="#23947f"/>
<rect x="505.04" y="373.75" width="1" height="7.50" fill="#23947f"/>
<rect x="504.44" y="375.00" width="2.2" height="5.00" fill="#23947f"/>
<rect x="507.62" y="372.50" width="1" height="8.75" fill="#23947f"/>
<rect x="507.02" y="373.75" width="2.2" height="6.25" fill="#23947f"/>
<rect x="510.20" y="356.25" width="1" height="20.00" fill="#23947f"/>
<rect x="509.60" y="357.50" width="2.2" height="17.50" fill="#23947f"/>
<rect x="512.78" y="356.25" width="1" height="18.75" fill="#e2505f"/>
<rect x="512.18" y="357.50" width="2.2" height="8.75" fill="#e2505f"/>
<rect x="515.36" y="360.00" width="1" height="8.75" fill="#e2505f"/>
<rect x="514.76" y="361.25" width="2.2" height="6.25" fill="#e2505f"/>
<rect x="517.94" y="363.75" width="1" height="11.25" fill="#e2505f"/>
<rect x="517.34" y="365.00" width="2.2" height="7.50" fill="#e2505f"/>
<rect x="520.52" y="356.25" width="1" height="21.25" fill="#23947f"/>
<rect x="519.92" y="357.50" width="2.2" height="17.50" fill="#23947f"/>
<rect x="523.10" y="348.75" width="1" height="12.50" fill="#23947f"/>
<rect x="522.50" y="350.00" width="2.2" height="10.00" fill="#23947f"/>
<rect x="525.68" y="342.50" width="1" height="10.00" fill="#23947f"/>
<rect x="525.08" y="343.75" width="2.2" height="7.50" fill="#23947f"/>
<rect x="528.26" y="335.00" width="1" height="11.25" fill="#23947f"/>
<rect x="527.66" y="338.75" width="2.2" height="6.25" fill="#23947f"/>
<rect x="530.84" y="337.50" width="1" height="7.50" fill="#e2505f"/>
<rect x="530.24" y="338.75" width="2.2" height="5.00" fill="#e2505f"/>
<rect x="533.42" y="336.25" width="1" height="10.00" fill="#e2505f"/>
<rect x="532.82" y="337.50" width="2.2" height="5.00" fill="#e2505f"/>
<rect x="536.00" y="331.25" width="1" height="11.25" fill="#e2505f"/>
<rect x="535.40" y="335.00" width="2.2" height="6.25" fill="#e2505f"/>
<rect x="538.58" y="333.75" width="1" height="7.50" fill="#23947f"/>
<rect x="537.98" y="335.00" width="2.2" height="5.00" fill="#23947f"/>
<rect x="541.16" y="331.25" width="1" height="12.50" fill="#e2505f"/>
<rect x="540.56" y="332.50" width="2.2" height="10.00" fill="#e2505f"/>
<rect x="543.74" y="326.25" width="1" height="17.50" fill="#23947f"/>
<rect x="543.14" y="327.50" width="2.2" height="15.00" fill="#23947f"/>
<rect x="546.32" y="320.00" width="1" height="11.25" fill="#23947f"/>
<rect x="545.72" y="325.00" width="2.2" height="5.00" fill="#23947f"/>
<rect x="548.90" y="321.25" width="1" height="7.50" fill="#e2505f"/>
<rect x="548.30" y="322.50" width="2.2" height="5.00" fill="#e2505f"/>
<rect x="551.48" y="322.50" width="1" height="5.00" fill="#e2505f"/>
<rect x="550.88" y="323.75" width="2.2" height="2.50" fill="#e2505f"/>
<rect x="554.06" y="323.75" width="1" height="18.75" fill="#e2505f"/>
<rect x="553.46" y="325.00" width="2.2" height="16.25" fill="#e2505f"/>
<rect x="556.64" y="337.50" width="1" height="22.50" fill="#e2505f"/>
<rect x="556.04" y="338.75" width="2.2" height="16.25" fill="#e2505f"/>
<rect x="559.22" y="351.25" width="1" height="7.50" fill="#23947f"/>
<rect x="558.62" y="352.50" width="2.2" height="5.00" fill="#23947f"/>
<rect x="561.80" y="347.50" width="1" height="13.75" fill="#23947f"/>
<rect x="561.20" y="348.75" width="2.2" height="11.25" fill="#23947f"/>
<rect x="564.38" y="345.00" width="1" height="8.75" fill="#23947f"/>
<rect x="563.78" y="346.25" width="2.2" height="6.25" fill="#23947f"/>
<rect x="566.96" y="343.75" width="1" height="7.50" fill="#23947f"/>
<rect x="566.36" y="345.00" width="2.2" height="5.00" fill="#23947f"/>
<rect x="569.54" y="342.50" width="1" height="7.50" fill="#23947f"/>
<rect x="568.94" y="343.75" width="2.2" height="5.00" fill="#23947f"/>
<rect x="572.12" y="333.75" width="1" height="13.75" fill="#e2505f"/>
<rect x="571.52" y="342.50" width="2.2" height="3.75" fill="#e2505f"/>
<rect x="574.70" y="341.25" width="1" height="8.75" fill="#23947f"/>
<rect x="574.10" y="342.50" width="2.2" height="6.25" fill="#23947f"/>
<rect x="577.28" y="343.75" width="1" height="15.00" fill="#e2505f"/>
<rect x="576.68" y="345.00" width="2.2" height="12.50" fill="#e2505f"/>
<rect x="579.86" y="352.50" width="1" height="15.00" fill="#e2505f"/>
<rect x="579.26" y="353.75" width="2.2" height="6.25" fill="#e2505f"/>
<rect x="582.44" y="342.50" width="1" height="18.75" fill="#23947f"/>
<rect x="581.84" y="343.75" width="2.2" height="16.25" fill="#23947f"/>
<rect x="585.02" y="338.75" width="1" height="7.50" fill="#23947f"/>
<rect x="584.42" y="340.00" width="2.2" height="5.00" fill="#23947f"/>
<rect x="587.60" y="340.00" width="1" height="5.00" fill="#e2505f"/>
<rect x="587.00" y="341.25" width="2.2" height="2.50" fill="#e2505f"/>
<rect x="590.18" y="320.00" width="1" height="26.25" fill="#23947f"/>
<rect x="589.58" y="321.25" width="2.2" height="23.75" fill="#23947f"/>
<rect x="592.76" y="312.50" width="1" height="13.75" fill="#23947f"/>
<rect x="592.16" y="313.75" width="2.2" height="11.25" fill="#23947f"/>
<rect x="595.34" y="308.75" width="1" height="10.00" fill="#e2505f"/>
<rect x="594.74" y="310.00" width="2.2" height="7.50" fill="#e2505f"/>
<rect x="597.92" y="311.25" width="1" height="6.25" fill="#23947f"/>
<rect x="597.32" y="312.50" width="2.2" height="3.75" fill="#23947f"/>
<rect x="600.50" y="303.75" width="1" height="12.50" fill="#23947f"/>
<rect x="599.90" y="308.75" width="2.2" height="6.25" fill="#23947f"/>
<rect x="603.08" y="305.00" width="1" height="6.25" fill="#23947f"/>
<rect x="602.48" y="306.25" width="2.2" height="3.75" fill="#23947f"/>
<rect x="605.66" y="301.25" width="1" height="8.75" fill="#23947f"/>
<rect x="605.06" y="302.50" width="2.2" height="6.25" fill="#23947f"/>
<rect x="608.24" y="301.25" width="1" height="17.50" fill="#e2505f"/>
<rect x="607.64" y="302.50" width="2.2" height="15.00" fill="#e2505f"/>
<rect x="610.82" y="312.50" width="1" height="7.50" fill="#e2505f"/>
<rect x="610.22" y="313.75" width="2.2" height="5.00" fill="#e2505f"/>
<rect x="613.40" y="315.00" width="1" height="12.50" fill="#e2505f"/>
<rect x="612.80" y="316.25" width="2.2" height="3.75" fill="#e2505f"/>
<rect x="615.98" y="307.50" width="1" height="12.50" fill="#e2505f"/>
<rect x="615.38" y="311.25" width="2.2" height="7.50" fill="#e2505f"/>
<rect x="618.56" y="310.00" width="1" height="15.00" fill="#e2505f"/>
<rect x="617.96" y="311.25" width="2.2" height="6.25" fill="#e2505f"/>
<rect x="621.14" y="315.00" width="1" height="6.25" fill="#e2505f"/>
<rect x="620.54" y="316.25" width="2.2" height="3.75" fill="#e2505f"/>
<rect x="623.72" y="308.75" width="1" height="11.25" fill="#23947f"/>
<rect x="623.12" y="310.00" width="2.2" height="8.75" fill="#23947f"/>
<rect x="626.30" y="296.25" width="1" height="16.25" fill="#23947f"/>
<rect x="625.70" y="297.50" width="2.2" height="13.75" fill="#23947f"/>
<rect x="628.88" y="275.00" width="1" height="23.75" fill="#23947f"/>
<rect x="628.28" y="281.25" width="2.2" height="16.25" fill="#23947f"/>
<rect x="631.46" y="278.75" width="1" height="10.00" fill="#e2505f"/>
<rect x="630.86" y="280.00" width="2.2" height="7.50" fill="#e2505f"/>
<rect x="634.04" y="281.25" width="1" height="17.50" fill="#e2505f"/>
<rect x="633.44" y="282.50" width="2.2" height="15.00" fill="#e2505f"/>
<rect x="636.62" y="293.75" width="1" height="10.00" fill="#e2505f"/>
<rect x="636.02" y="295.00" width="2.2" height="7.50" fill="#e2505f"/>
<rect x="641.78" y="298.00" width="1" height="10.00" fill="#e2505f"/>
<rect x="641.18" y="300.00" width="2.2" height="6.00" fill="#e2505f"/>
<rect x="644.36" y="301.00" width="1" height="15.00" fill="#e2505f"/>
<rect x="643.76" y="303.00" width="2.2" height="9.50" fill="#e2505f"/>
<rect x="646.94" y="298.00" width="1" height="10.00" fill="#23947f"/>
<rect x="646.34" y="300.00" width="2.2" height="5.00" fill="#23947f"/>
<rect x="649.52" y="260.00" width="1" height="46.00" fill="#23947f"/>
<rect x="648.92" y="262.50" width="2.2" height="40.50" fill="#23947f"/>
<rect x="652.10" y="255.00" width="1" height="11.00" fill="#23947f"/>
<rect x="651.50" y="258.00" width="2.2" height="6.00" fill="#23947f"/>
<rect x="654.68" y="251.00" width="1" height="12.00" fill="#23947f"/>
<rect x="654.08" y="255.00" width="2.2" height="6.00" fill="#23947f"/>
<rect x="657.26" y="252.00" width="1" height="11.00" fill="#23947f"/>
<rect x="656.66" y="256.00" width="2.2" height="5.00" fill="#23947f"/>
<rect x="659.84" y="250.00" width="1" height="11.00" fill="#23947f"/>
<rect x="659.24" y="253.00" width="2.2" height="6.00" fill="#23947f"/>
<rect x="662.42" y="172.00" width="1" height="84.00" fill="#23947f"/>
<rect x="661.82" y="181.00" width="2.2" height="73.70" fill="#23947f"/>
<rect x="665.00" y="172.00" width="1" height="28.00" fill="#e2505f"/>
<rect x="664.40" y="179.60" width="2.2" height="4.15" fill="#e2505f"/>
<rect x="667.58" y="150.00" width="1" height="46.00" fill="#23947f"/>
<rect x="666.98" y="168.00" width="2.2" height="26.00" fill="#23947f"/>
<rect x="670.16" y="160.00" width="1" height="31.00" fill="#e2505f"/>
<rect x="669.56" y="168.00" width="2.2" height="20.00" fill="#e2505f"/>
<rect x="672.74" y="158.75" width="1" height="31.25" fill="#23947f"/>
<rect x="672.14" y="164.50" width="2.2" height="23.50" fill="#23947f"/>
<rect x="675.32" y="160.00" width="1" height="11.00" fill="#e2505f"/>
<rect x="674.72" y="164.50" width="2.2" height="4.50" fill="#e2505f"/>
<rect x="677.90" y="160.00" width="1" height="18.00" fill="#e2505f"/>
<rect x="677.30" y="162.00" width="2.2" height="9.00" fill="#e2505f"/>
<rect x="680.48" y="153.50" width="1" height="20.50" fill="#23947f"/>
<rect x="679.88" y="155.60" width="2.2" height="15.40" fill="#23947f"/>
<rect x="683.06" y="144.00" width="1" height="25.00" fill="#23947f"/>
<rect x="682.46" y="146.00" width="2.2" height="22.00" fill="#23947f"/>
<rect x="685.64" y="141.00" width="1" height="19.00" fill="#23947f"/>
<rect x="685.04" y="143.00" width="2.2" height="12.60" fill="#23947f"/>
<rect x="688.22" y="116.25" width="1" height="28.12" fill="#23947f"/>
<rect x="687.62" y="117.29" width="2.2" height="26.04" fill="#23947f"/>
<rect x="690.80" y="108.96" width="1" height="14.58" fill="#23947f"/>
<rect x="690.20" y="114.17" width="2.2" height="8.33" fill="#23947f"/>
<rect x="693.38" y="112.08" width="1" height="17.71" fill="#e2505f"/>
<rect x="692.78" y="113.12" width="2.2" height="8.33" fill="#e2505f"/>
<rect x="695.96" y="115.21" width="1" height="6.25" fill="#23947f"/>
<rect x="695.36" y="116.25" width="2.2" height="4.17" fill="#23947f"/>
<rect x="698.54" y="113.08" width="1" height="36.38" fill="#e2505f"/>
<rect x="697.94" y="114.25" width="2.2" height="34.04" fill="#e2505f"/>
<rect x="701.12" y="144.77" width="1" height="19.95" fill="#e2505f"/>
<rect x="700.52" y="145.94" width="2.2" height="10.56" fill="#e2505f"/>
<rect x="703.70" y="124.81" width="1" height="34.04" fill="#23947f"/>
<rect x="703.10" y="134.20" width="2.2" height="23.47" fill="#23947f"/>
<rect x="706.28" y="130.68" width="1" height="5.87" fill="#23947f"/>
<rect x="705.68" y="131.85" width="2.2" height="3.52" fill="#23947f"/>
<rect x="708.86" y="115.42" width="1" height="21.13" fill="#23947f"/>
<rect x="708.26" y="122.46" width="2.2" height="12.91" fill="#23947f"/>
<rect x="711.44" y="122.46" width="1" height="8.22" fill="#e2505f"/>
<rect x="710.84" y="123.64" width="2.2" height="5.87" fill="#e2505f"/>
<rect x="714.02" y="121.29" width="1" height="11.74" fill="#e2505f"/>
<rect x="713.42" y="122.46" width="2.2" height="9.39" fill="#e2505f"/>
<rect x="716.60" y="122.46" width="1" height="12.91" fill="#e2505f"/>
<rect x="716.00" y="124.81" width="2.2" height="9.39" fill="#e2505f"/>
<rect x="719.18" y="128.33" width="1" height="17.61" fill="#23947f"/>
<rect x="718.58" y="129.51" width="2.2" height="4.69" fill="#23947f"/>
<rect x="721.76" y="115.42" width="1" height="19.95" fill="#23947f"/>
<rect x="721.16" y="120.12" width="2.2" height="14.08" fill="#23947f"/>
<rect x="724.34" y="79.04" width="1" height="85.68" fill="#e2505f"/>
<rect x="723.74" y="115.42" width="2.2" height="11.74" fill="#e2505f"/>
<rect x="726.92" y="107.21" width="1" height="16.43" fill="#23947f"/>
<rect x="726.32" y="108.38" width="2.2" height="14.08" fill="#23947f"/>
<rect x="729.50" y="98.99" width="1" height="12.91" fill="#23947f"/>
<rect x="728.90" y="101.34" width="2.2" height="9.39" fill="#23947f"/>
<rect x="732.08" y="97.82" width="1" height="9.39" fill="#23947f"/>
<rect x="731.48" y="98.99" width="2.2" height="7.04" fill="#23947f"/>
<rect x="734.66" y="97.82" width="1" height="15.26" fill="#e2505f"/>
<rect x="734.06" y="98.99" width="2.2" height="12.91" fill="#e2505f"/>
<rect x="737.24" y="107.21" width="1" height="35.21" fill="#e2505f"/>
<rect x="736.64" y="108.38" width="2.2" height="19.95" fill="#e2505f"/>
<rect x="739.82" y="97.82" width="1" height="28.17" fill="#23947f"/>
<rect x="739.22" y="98.99" width="2.2" height="25.82" fill="#23947f"/>
<rect x="742.40" y="90.77" width="1" height="17.61" fill="#23947f"/>
<rect x="741.80" y="96.64" width="2.2" height="10.56" fill="#23947f"/>
<rect x="744.98" y="94.30" width="1" height="12.91" fill="#23947f"/>
<rect x="744.38" y="95.47" width="2.2" height="10.56" fill="#23947f"/>
<rect x="747.56" y="93.12" width="1" height="7.04" fill="#23947f"/>
<rect x="746.96" y="94.30" width="2.2" height="4.69" fill="#23947f"/>
<rect x="750.14" y="70.82" width="1" height="28.17" fill="#23947f"/>
<rect x="749.54" y="72.00" width="2.2" height="25.82" fill="#23947f"/>
<rect x="752.72" y="66.13" width="1" height="12.91" fill="#23947f"/>
<rect x="752.12" y="67.30" width="2.2" height="10.56" fill="#23947f"/>
<rect x="755.30" y="53.22" width="1" height="16.43" fill="#e2505f"/>
<rect x="754.70" y="55.56" width="2.2" height="12.91" fill="#e2505f"/>
<rect x="757.88" y="64.95" width="1" height="42.25" fill="#e2505f"/>
<rect x="757.28" y="66.13" width="2.2" height="39.91" fill="#e2505f"/>
<rect x="763.04" y="88.43" width="1" height="66.90" fill="#23947f"/>
<rect x="762.44" y="106.03" width="2.2" height="18.78" fill="#23947f"/>
<rect x="765.62" y="110.73" width="1" height="16.43" fill="#e2505f"/>
<rect x="765.02" y="120.12" width="2.2" height="5.87" fill="#e2505f"/>
<rect x="768.20" y="121.29" width="1" height="17.61" fill="#e2505f"/>
<rect x="767.60" y="122.46" width="2.2" height="15.26" fill="#e2505f"/>
<rect x="770.78" y="135.38" width="1" height="17.61" fill="#e2505f"/>
<rect x="770.18" y="136.55" width="2.2" height="3.52" fill="#e2505f"/>
<rect x="773.36" y="111.90" width="1" height="28.17" fill="#23947f"/>
<rect x="772.76" y="113.08" width="2.2" height="25.82" fill="#23947f"/>
<rect x="775.94" y="107.21" width="1" height="9.39" fill="#23947f"/>
<rect x="775.34" y="109.55" width="2.2" height="5.87" fill="#23947f"/>
<rect x="778.52" y="107.21" width="1" height="28.17" fill="#e2505f"/>
<rect x="777.92" y="108.38" width="2.2" height="25.82" fill="#e2505f"/>
<rect x="781.10" y="131.85" width="1" height="12.91" fill="#e2505f"/>
<rect x="780.50" y="133.03" width="2.2" height="10.56" fill="#e2505f"/>
<rect x="783.68" y="135.38" width="1" height="9.39" fill="#e2505f"/>
<rect x="783.08" y="136.55" width="2.2" height="7.04" fill="#e2505f"/>
<rect x="786.26" y="137.72" width="1" height="11.74" fill="#e2505f"/>
<rect x="785.66" y="138.90" width="2.2" height="9.39" fill="#e2505f"/>
<rect x="788.84" y="142.42" width="1" height="15.26" fill="#23947f"/>
<rect x="788.24" y="143.59" width="2.2" height="9.39" fill="#23947f"/>
<rect x="791.42" y="134.20" width="1" height="15.26" fill="#e2505f"/>
<rect x="790.82" y="138.90" width="2.2" height="9.39" fill="#e2505f"/>
<rect x="794.00" y="136.55" width="1" height="9.39" fill="#23947f"/>
<rect x="793.40" y="138.90" width="2.2" height="5.87" fill="#23947f"/>
<rect x="796.58" y="121.29" width="1" height="18.78" fill="#23947f"/>
<rect x="795.98" y="122.46" width="2.2" height="16.43" fill="#23947f"/>
<rect x="799.16" y="113.08" width="1" height="10.56" fill="#23947f"/>
<rect x="798.56" y="117.77" width="2.2" height="4.69" fill="#23947f"/>
<rect x="801.74" y="114.25" width="1" height="9.39" fill="#23947f"/>
<rect x="801.14" y="115.42" width="2.2" height="7.04" fill="#23947f"/>
<rect x="804.32" y="114.25" width="1" height="7.04" fill="#e2505f"/>
<rect x="803.72" y="115.42" width="2.2" height="4.69" fill="#e2505f"/>
<rect x="806.90" y="88.43" width="1" height="29.34" fill="#e2505f"/>
<rect x="806.30" y="91.95" width="2.2" height="24.65" fill="#e2505f"/>
<rect x="809.48" y="95.47" width="1" height="30.52" fill="#e2505f"/>
<rect x="808.88" y="96.64" width="2.2" height="28.17" fill="#e2505f"/>
<rect x="812.06" y="121.29" width="1" height="18.78" fill="#e2505f"/>
<rect x="811.46" y="122.46" width="2.2" height="16.43" fill="#e2505f"/>
<rect x="814.64" y="136.55" width="1" height="14.08" fill="#e2505f"/>
<rect x="814.04" y="137.72" width="2.2" height="8.22" fill="#e2505f"/>
<rect x="817.22" y="136.55" width="1" height="23.47" fill="#e2505f"/>
<rect x="816.62" y="137.72" width="2.2" height="16.43" fill="#e2505f"/>
<rect x="819.80" y="138.90" width="1" height="5.87" fill="#e2505f"/>
<rect x="819.20" y="140.07" width="2.2" height="3.52" fill="#e2505f"/>
<rect x="822.38" y="137.72" width="1" height="7.04" fill="#e2505f"/>
<rect x="821.78" y="138.90" width="2.2" height="4.69" fill="#e2505f"/>
<rect x="824.96" y="137.72" width="1" height="36.38" fill="#e2505f"/>
<rect x="824.36" y="138.90" width="2.2" height="3.52" fill="#e2505f"/>
<rect x="827.54" y="123.64" width="1" height="18.78" fill="#23947f"/>
<rect x="826.94" y="124.81" width="2.2" height="16.43" fill="#23947f"/>
<rect x="830.12" y="101.34" width="1" height="28.17" fill="#23947f"/>
<rect x="829.52" y="103.69" width="2.2" height="24.65" fill="#23947f"/>
<rect x="832.70" y="82.56" width="1" height="24.65" fill="#23947f"/>
<rect x="832.10" y="102.51" width="2.2" height="3.52" fill="#23947f"/>
<rect x="835.28" y="69.65" width="1" height="53.99" fill="#23947f"/>
<rect x="834.68" y="80.21" width="2.2" height="42.25" fill="#23947f"/>
<rect x="837.86" y="76.69" width="1" height="7.04" fill="#23947f"/>
<rect x="837.26" y="77.86" width="2.2" height="4.69" fill="#23947f"/>
<rect x="840.44" y="63.47" width="1" height="36.38" fill="#e2505f"/>
<rect x="839.84" y="65.82" width="2.2" height="32.86" fill="#e2505f"/>
<rect x="843.02" y="43.52" width="1" height="64.55" fill="#23947f"/>
<rect x="842.42" y="65.82" width="2.2" height="32.86" fill="#23947f"/>
<rect x="845.60" y="59.95" width="1" height="48.12" fill="#23947f"/>
<rect x="845.00" y="61.13" width="2.2" height="32.86" fill="#23947f"/>
<rect x="848.18" y="64.65" width="1" height="38.73" fill="#e2505f"/>
<rect x="847.58" y="65.82" width="2.2" height="28.17" fill="#e2505f"/>
<rect x="850.76" y="75.21" width="1" height="23.47" fill="#23947f"/>
<rect x="850.16" y="76.38" width="2.2" height="7.04" fill="#23947f"/>
<rect x="853.34" y="61.13" width="1" height="23.47" fill="#23947f"/>
<rect x="852.74" y="62.30" width="2.2" height="21.13" fill="#23947f"/>
<rect x="855.92" y="61.13" width="1" height="23.47" fill="#e2505f"/>
<rect x="855.32" y="74.04" width="2.2" height="9.39" fill="#e2505f"/>
<rect x="858.50" y="71.69" width="1" height="19.95" fill="#e2505f"/>
<rect x="857.90" y="74.04" width="2.2" height="16.43" fill="#e2505f"/>
<rect x="861.08" y="86.95" width="1" height="29.34" fill="#e2505f"/>
<rect x="860.48" y="88.12" width="2.2" height="9.39" fill="#e2505f"/>
<rect x="863.66" y="82.25" width="1" height="16.43" fill="#23947f"/>
<rect x="863.06" y="83.43" width="2.2" height="14.08" fill="#23947f"/>
<rect x="866.24" y="75.21" width="1" height="14.08" fill="#23947f"/>
<rect x="865.64" y="76.38" width="2.2" height="11.74" fill="#23947f"/>
<rect x="868.82" y="65.82" width="1" height="17.61" fill="#e2505f"/>
<rect x="868.22" y="76.38" width="2.2" height="5.87" fill="#e2505f"/>
<rect x="871.40" y="68.17" width="1" height="23.47" fill="#e2505f"/>
<rect x="870.80" y="75.21" width="2.2" height="15.26" fill="#e2505f"/>
<rect x="873.98" y="88.12" width="1" height="16.43" fill="#e2505f"/>
<rect x="873.38" y="89.30" width="2.2" height="14.08" fill="#e2505f"/>
<rect x="876.56" y="90.47" width="1" height="15.26" fill="#e2505f"/>
<rect x="875.96" y="91.64" width="2.2" height="12.91" fill="#e2505f"/>
<rect x="879.14" y="95.16" width="1" height="66.90" fill="#23947f"/>
<rect x="878.54" y="96.34" width="2.2" height="25.82" fill="#23947f"/>
<rect x="881.72" y="96.34" width="1" height="27.00" fill="#e2505f"/>
<rect x="881.12" y="97.51" width="2.2" height="24.65" fill="#e2505f"/>
<rect x="884.30" y="98.69" width="1" height="35.21" fill="#e2505f"/>
<rect x="883.70" y="99.86" width="2.2" height="30.52" fill="#e2505f"/>
<rect x="886.88" y="112.77" width="1" height="17.61" fill="#e2505f"/>
<rect x="886.28" y="113.94" width="2.2" height="15.26" fill="#e2505f"/>
<rect x="889.46" y="105.73" width="1" height="27.00" fill="#e2505f"/>
<rect x="888.86" y="116.29" width="2.2" height="15.26" fill="#e2505f"/>
<rect x="892.04" y="126.85" width="1" height="5.87" fill="#23947f"/>
<rect x="891.44" y="128.03" width="2.2" height="3.52" fill="#23947f"/>
<rect x="894.62" y="123.33" width="1" height="16.43" fill="#23947f"/>
<rect x="894.02" y="124.51" width="2.2" height="9.39" fill="#23947f"/>
<rect x="897.20" y="117.46" width="1" height="18.78" fill="#23947f"/>
<rect x="896.60" y="118.64" width="2.2" height="10.56" fill="#23947f"/>
<rect x="899.78" y="115.12" width="1" height="8.22" fill="#23947f"/>
<rect x="899.18" y="116.29" width="2.2" height="5.87" fill="#23947f"/>
<rect x="639.20" y="297.75" width="1" height="6.25" fill="#e2505f"/>
<rect x="638.60" y="298.75" width="2.2" height="4.25" fill="#e2505f"/>
<rect x="760.46" y="85.08" width="1" height="31.34" fill="#e2505f"/>
<rect x="759.86" y="86.08" width="2.2" height="29.34" fill="#e2505f"/>
</g>
<clipPath id="pc"><rect x="0" y="40" width="952" height="375"/></clipPath>
<rect x="1.84" y="485.34" width="1.2" height="7.16" fill="#26a69a"/>
<rect x="4.42" y="484.65" width="1.2" height="7.85" fill="#26a69a"/>
<rect x="7.00" y="483.95" width="1.2" height="8.55" fill="#26a69a"/>
<rect x="9.58" y="483.25" width="1.2" height="9.25" fill="#26a69a"/>
<rect x="12.16" y="483.68" width="1.2" height="8.82" fill="#b2dfdb"/>
<rect x="14.74" y="484.56" width="1.2" height="7.94" fill="#b2dfdb"/>
<rect x="17.32" y="485.05" width="1.2" height="7.45" fill="#b2dfdb"/>
<rect x="19.90" y="485.54" width="1.2" height="6.96" fill="#b2dfdb"/>
<rect x="22.48" y="486.03" width="1.2" height="6.47" fill="#b2dfdb"/>
<rect x="25.06" y="486.47" width="1.2" height="6.03" fill="#b2dfdb"/>
<rect x="27.64" y="486.79" width="1.2" height="5.71" fill="#b2dfdb"/>
<rect x="30.22" y="487.12" width="1.2" height="5.38" fill="#b2dfdb"/>
<rect x="32.80" y="487.44" width="1.2" height="5.06" fill="#b2dfdb"/>
<rect x="35.38" y="487.76" width="1.2" height="4.74" fill="#b2dfdb"/>
<rect x="37.96" y="489.91" width="1.2" height="2.59" fill="#b2dfdb"/>
<rect x="40.54" y="490.58" width="1.2" height="1.92" fill="#b2dfdb"/>
<rect x="43.12" y="492.50" width="1.2" height="1.37" fill="#ef5350"/>
<rect x="45.70" y="492.50" width="1.2" height="4.21" fill="#ef5350"/>
<rect x="48.28" y="492.50" width="1.2" height="6.62" fill="#ef5350"/>
<rect x="50.86" y="492.50" width="1.2" height="8.59" fill="#ef5350"/>
<rect x="53.44" y="492.50" width="1.2" height="9.63" fill="#ef5350"/>
<rect x="56.02" y="492.50" width="1.2" height="10.28" fill="#ef5350"/>
<rect x="58.60" y="492.50" width="1.2" height="10.92" fill="#ef5350"/>
<rect x="61.18" y="492.50" width="1.2" height="11.57" fill="#ef5350"/>
<rect x="63.76" y="492.50" width="1.2" height="9.52" fill="#ffcdd2"/>
<rect x="66.34" y="492.50" width="1.2" height="7.54" fill="#ffcdd2"/>
<rect x="68.92" y="492.50" width="1.2" height="5.93" fill="#ffcdd2"/>
<rect x="71.50" y="492.50" width="1.2" height="4.31" fill="#ffcdd2"/>
<rect x="74.08" y="492.50" width="1.2" height="3.35" fill="#ffcdd2"/>
<rect x="76.66" y="492.50" width="1.2" height="2.52" fill="#ffcdd2"/>
<rect x="79.24" y="492.50" width="1.2" height="1.68" fill="#ffcdd2"/>
<rect x="81.82" y="492.50" width="1.2" height="0.84" fill="#ffcdd2"/>
<rect x="84.40" y="492.50" width="1.2" height="2.17" fill="#ef5350"/>
<rect x="86.98" y="492.50" width="1.2" height="3.44" fill="#ef5350"/>
<rect x="89.56" y="492.50" width="1.2" height="4.62" fill="#ef5350"/>
<rect x="92.14" y="492.50" width="1.2" height="4.51" fill="#ffcdd2"/>
<rect x="94.72" y="492.50" width="1.2" height="4.40" fill="#ffcdd2"/>
<rect x="97.30" y="492.50" width="1.2" height="4.30" fill="#ffcdd2"/>
<rect x="99.88" y="492.50" width="1.2" height="3.43" fill="#ffcdd2"/>
<rect x="102.46" y="492.50" width="1.2" height="2.01" fill="#ffcdd2"/>
<rect x="105.04" y="492.50" width="1.2" height="0.70" fill="#ffcdd2"/>
<rect x="107.62" y="492.50" width="1.2" height="0.19" fill="#ffcdd2"/>
<rect x="110.20" y="492.50" width="1.2" height="0.88" fill="#ef5350"/>
<rect x="112.78" y="492.50" width="1.2" height="1.57" fill="#ef5350"/>
<rect x="115.36" y="492.50" width="1.2" height="3.04" fill="#ef5350"/>
<rect x="117.94" y="492.50" width="1.2" height="5.29" fill="#ef5350"/>
<rect x="120.52" y="492.50" width="1.2" height="6.75" fill="#ef5350"/>
<rect x="123.10" y="492.50" width="1.2" height="8.21" fill="#ef5350"/>
<rect x="125.68" y="492.50" width="1.2" height="9.67" fill="#ef5350"/>
<rect x="128.26" y="492.50" width="1.2" height="9.11" fill="#ffcdd2"/>
<rect x="130.84" y="492.50" width="1.2" height="6.75" fill="#ffcdd2"/>
<rect x="133.42" y="492.50" width="1.2" height="4.40" fill="#ffcdd2"/>
<rect x="136.00" y="492.50" width="1.2" height="2.86" fill="#ffcdd2"/>
<rect x="138.58" y="492.50" width="1.2" height="1.83" fill="#ffcdd2"/>
<rect x="141.16" y="492.50" width="1.2" height="1.38" fill="#ffcdd2"/>
<rect x="143.74" y="492.50" width="1.2" height="1.21" fill="#ffcdd2"/>
<rect x="146.32" y="492.50" width="1.2" height="1.04" fill="#ffcdd2"/>
<rect x="148.90" y="492.50" width="1.2" height="0.87" fill="#ffcdd2"/>
<rect x="151.48" y="492.50" width="1.2" height="0.69" fill="#ffcdd2"/>
<rect x="154.06" y="492.50" width="1.2" height="0.52" fill="#ffcdd2"/>
<rect x="156.64" y="492.50" width="1.2" height="1.43" fill="#ef5350"/>
<rect x="159.22" y="492.50" width="1.2" height="2.51" fill="#ef5350"/>
<rect x="161.80" y="492.50" width="1.2" height="3.58" fill="#ef5350"/>
<rect x="164.38" y="492.50" width="1.2" height="4.66" fill="#ef5350"/>
<rect x="166.96" y="492.50" width="1.2" height="2.79" fill="#ffcdd2"/>
<rect x="169.54" y="492.50" width="1.2" height="0.94" fill="#ffcdd2"/>
<rect x="172.12" y="492.34" width="1.2" height="0.16" fill="#26a69a"/>
<rect x="174.70" y="491.40" width="1.2" height="1.10" fill="#26a69a"/>
<rect x="177.28" y="491.59" width="1.2" height="0.91" fill="#b2dfdb"/>
<rect x="179.86" y="491.78" width="1.2" height="0.72" fill="#b2dfdb"/>
<rect x="182.44" y="491.98" width="1.2" height="0.52" fill="#b2dfdb"/>
<rect x="185.02" y="492.17" width="1.2" height="0.33" fill="#b2dfdb"/>
<rect x="187.60" y="492.37" width="1.2" height="0.13" fill="#b2dfdb"/>
<rect x="190.18" y="492.34" width="1.2" height="0.16" fill="#26a69a"/>
<rect x="192.76" y="491.83" width="1.2" height="0.67" fill="#26a69a"/>
<rect x="195.34" y="491.31" width="1.2" height="1.19" fill="#26a69a"/>
<rect x="197.92" y="490.80" width="1.2" height="1.70" fill="#26a69a"/>
<rect x="200.50" y="489.77" width="1.2" height="2.73" fill="#26a69a"/>
<rect x="203.08" y="488.05" width="1.2" height="4.45" fill="#26a69a"/>
<rect x="205.66" y="486.87" width="1.2" height="5.63" fill="#26a69a"/>
<rect x="208.24" y="486.27" width="1.2" height="6.23" fill="#26a69a"/>
<rect x="210.82" y="485.67" width="1.2" height="6.83" fill="#26a69a"/>
<rect x="213.40" y="485.07" width="1.2" height="7.43" fill="#26a69a"/>
<rect x="215.98" y="486.04" width="1.2" height="6.46" fill="#b2dfdb"/>
<rect x="218.56" y="488.02" width="1.2" height="4.48" fill="#b2dfdb"/>
<rect x="221.14" y="488.90" width="1.2" height="3.60" fill="#b2dfdb"/>
<rect x="223.72" y="489.24" width="1.2" height="3.26" fill="#b2dfdb"/>
<rect x="226.30" y="489.59" width="1.2" height="2.91" fill="#b2dfdb"/>
<rect x="228.88" y="489.93" width="1.2" height="2.57" fill="#b2dfdb"/>
<rect x="231.46" y="491.10" width="1.2" height="1.40" fill="#b2dfdb"/>
<rect x="234.04" y="492.47" width="1.2" height="0.03" fill="#b2dfdb"/>
<rect x="236.62" y="492.50" width="1.2" height="0.80" fill="#ef5350"/>
<rect x="239.20" y="492.50" width="1.2" height="1.54" fill="#ef5350"/>
<rect x="241.78" y="492.50" width="1.2" height="2.28" fill="#ef5350"/>
<rect x="244.36" y="492.50" width="1.2" height="3.01" fill="#ef5350"/>
<rect x="246.94" y="492.50" width="1.2" height="2.33" fill="#ffcdd2"/>
<rect x="249.52" y="492.50" width="1.2" height="1.62" fill="#ffcdd2"/>
<rect x="252.10" y="492.50" width="1.2" height="0.91" fill="#ffcdd2"/>
<rect x="254.68" y="492.50" width="1.2" height="0.20" fill="#ffcdd2"/>
<rect x="257.26" y="492.38" width="1.2" height="0.12" fill="#26a69a"/>
<rect x="259.84" y="492.20" width="1.2" height="0.30" fill="#26a69a"/>
<rect x="262.42" y="492.03" width="1.2" height="0.47" fill="#26a69a"/>
<rect x="265.00" y="491.86" width="1.2" height="0.64" fill="#26a69a"/>
<rect x="267.58" y="492.50" width="1.2" height="0.23" fill="#ef5350"/>
<rect x="270.16" y="492.50" width="1.2" height="1.30" fill="#ef5350"/>
<rect x="272.74" y="492.50" width="1.2" height="1.90" fill="#ef5350"/>
<rect x="275.32" y="492.50" width="1.2" height="2.45" fill="#ef5350"/>
<rect x="277.90" y="492.50" width="1.2" height="3.00" fill="#ef5350"/>
<rect x="280.48" y="492.50" width="1.2" height="3.17" fill="#ef5350"/>
<rect x="283.06" y="492.50" width="1.2" height="3.34" fill="#ef5350"/>
<rect x="285.64" y="492.50" width="1.2" height="3.52" fill="#ef5350"/>
<rect x="288.22" y="492.50" width="1.2" height="3.69" fill="#ef5350"/>
<rect x="290.80" y="492.50" width="1.2" height="3.86" fill="#ef5350"/>
<rect x="293.38" y="492.50" width="1.2" height="4.10" fill="#ef5350"/>
<rect x="295.96" y="492.50" width="1.2" height="4.64" fill="#ef5350"/>
<rect x="298.54" y="492.50" width="1.2" height="5.18" fill="#ef5350"/>
<rect x="301.12" y="492.50" width="1.2" height="5.73" fill="#ef5350"/>
<rect x="303.70" y="492.50" width="1.2" height="6.03" fill="#ef5350"/>
<rect x="306.28" y="492.50" width="1.2" height="5.80" fill="#ffcdd2"/>
<rect x="308.86" y="492.50" width="1.2" height="5.56" fill="#ffcdd2"/>
<rect x="311.44" y="492.50" width="1.2" height="5.33" fill="#ffcdd2"/>
<rect x="314.02" y="492.50" width="1.2" height="4.26" fill="#ffcdd2"/>
<rect x="316.60" y="492.50" width="1.2" height="2.09" fill="#ffcdd2"/>
<rect x="319.18" y="492.50" width="1.2" height="0.26" fill="#ffcdd2"/>
<rect x="321.76" y="492.07" width="1.2" height="0.43" fill="#26a69a"/>
<rect x="324.34" y="492.12" width="1.2" height="0.38" fill="#b2dfdb"/>
<rect x="326.92" y="492.50" width="1.2" height="0.58" fill="#ef5350"/>
<rect x="329.50" y="492.50" width="1.2" height="2.17" fill="#ef5350"/>
<rect x="332.08" y="492.50" width="1.2" height="3.77" fill="#ef5350"/>
<rect x="334.66" y="492.50" width="1.2" height="4.19" fill="#ef5350"/>
<rect x="337.24" y="492.50" width="1.2" height="4.06" fill="#ffcdd2"/>
<rect x="339.82" y="492.50" width="1.2" height="3.94" fill="#ffcdd2"/>
<rect x="342.40" y="492.50" width="1.2" height="2.66" fill="#ffcdd2"/>
<rect x="344.98" y="492.50" width="1.2" height="1.04" fill="#ffcdd2"/>
<rect x="347.56" y="492.50" width="1.2" height="0.68" fill="#ffcdd2"/>
<rect x="350.14" y="492.18" width="1.2" height="0.32" fill="#26a69a"/>
<rect x="352.72" y="488.96" width="1.2" height="3.54" fill="#26a69a"/>
<rect x="355.30" y="485.74" width="1.2" height="6.76" fill="#26a69a"/>
<rect x="357.88" y="482.52" width="1.2" height="9.98" fill="#26a69a"/>
<rect x="360.46" y="480.15" width="1.2" height="12.35" fill="#26a69a"/>
<rect x="363.04" y="479.37" width="1.2" height="13.13" fill="#26a69a"/>
<rect x="365.62" y="478.72" width="1.2" height="13.78" fill="#26a69a"/>
<rect x="368.20" y="479.32" width="1.2" height="13.18" fill="#b2dfdb"/>
<rect x="370.78" y="479.92" width="1.2" height="12.58" fill="#b2dfdb"/>
<rect x="373.36" y="480.85" width="1.2" height="11.65" fill="#b2dfdb"/>
<rect x="375.94" y="482.99" width="1.2" height="9.51" fill="#b2dfdb"/>
<rect x="378.52" y="484.13" width="1.2" height="8.37" fill="#b2dfdb"/>
<rect x="381.10" y="485.27" width="1.2" height="7.23" fill="#b2dfdb"/>
<rect x="383.68" y="486.29" width="1.2" height="6.21" fill="#b2dfdb"/>
<rect x="386.26" y="487.00" width="1.2" height="5.50" fill="#b2dfdb"/>
<rect x="388.84" y="487.71" width="1.2" height="4.79" fill="#b2dfdb"/>
<rect x="391.42" y="489.24" width="1.2" height="3.26" fill="#b2dfdb"/>
<rect x="394.00" y="491.07" width="1.2" height="1.43" fill="#b2dfdb"/>
<rect x="396.58" y="491.62" width="1.2" height="0.88" fill="#b2dfdb"/>
<rect x="399.16" y="492.50" width="1.2" height="0.68" fill="#ef5350"/>
<rect x="401.74" y="492.50" width="1.2" height="3.29" fill="#ef5350"/>
<rect x="404.32" y="492.50" width="1.2" height="5.91" fill="#ef5350"/>
<rect x="406.90" y="492.50" width="1.2" height="8.45" fill="#ef5350"/>
<rect x="409.48" y="492.50" width="1.2" height="10.94" fill="#ef5350"/>
<rect x="412.06" y="492.50" width="1.2" height="13.44" fill="#ef5350"/>
<rect x="414.64" y="492.50" width="1.2" height="15.32" fill="#ef5350"/>
<rect x="417.22" y="492.50" width="1.2" height="11.29" fill="#ffcdd2"/>
<rect x="419.80" y="492.50" width="1.2" height="7.26" fill="#ffcdd2"/>
<rect x="422.38" y="492.50" width="1.2" height="4.81" fill="#ffcdd2"/>
<rect x="424.96" y="492.50" width="1.2" height="3.85" fill="#ffcdd2"/>
<rect x="427.54" y="492.50" width="1.2" height="3.15" fill="#ffcdd2"/>
<rect x="430.12" y="492.50" width="1.2" height="2.44" fill="#ffcdd2"/>
<rect x="432.70" y="492.50" width="1.2" height="1.74" fill="#ffcdd2"/>
<rect x="435.28" y="492.50" width="1.2" height="1.03" fill="#ffcdd2"/>
<rect x="437.86" y="492.50" width="1.2" height="0.68" fill="#ffcdd2"/>
<rect x="440.44" y="492.50" width="1.2" height="0.34" fill="#ffcdd2"/>
<rect x="443.02" y="492.50" width="1.2" height="0.01" fill="#ffcdd2"/>
<rect x="445.60" y="492.17" width="1.2" height="0.33" fill="#26a69a"/>
<rect x="448.18" y="491.59" width="1.2" height="0.91" fill="#26a69a"/>
<rect x="450.76" y="488.99" width="1.2" height="3.51" fill="#26a69a"/>
<rect x="453.34" y="486.38" width="1.2" height="6.12" fill="#26a69a"/>
<rect x="455.92" y="483.90" width="1.2" height="8.60" fill="#26a69a"/>
<rect x="458.50" y="481.94" width="1.2" height="10.56" fill="#26a69a"/>
<rect x="461.08" y="481.23" width="1.2" height="11.27" fill="#26a69a"/>
<rect x="463.66" y="483.98" width="1.2" height="8.52" fill="#b2dfdb"/>
<rect x="466.24" y="486.73" width="1.2" height="5.77" fill="#b2dfdb"/>
<rect x="468.82" y="489.35" width="1.2" height="3.15" fill="#b2dfdb"/>
<rect x="471.40" y="491.09" width="1.2" height="1.41" fill="#b2dfdb"/>
<rect x="473.98" y="491.83" width="1.2" height="0.67" fill="#b2dfdb"/>
<rect x="476.56" y="492.50" width="1.2" height="0.07" fill="#ef5350"/>
<rect x="479.14" y="492.50" width="1.2" height="0.81" fill="#ef5350"/>
<rect x="481.72" y="492.50" width="1.2" height="1.61" fill="#ef5350"/>
<rect x="484.30" y="492.50" width="1.2" height="2.47" fill="#ef5350"/>
<rect x="486.88" y="492.50" width="1.2" height="3.18" fill="#ef5350"/>
<rect x="489.46" y="492.50" width="1.2" height="3.78" fill="#ef5350"/>
<rect x="492.04" y="492.50" width="1.2" height="4.38" fill="#ef5350"/>
<rect x="494.62" y="492.50" width="1.2" height="4.98" fill="#ef5350"/>
<rect x="497.20" y="492.50" width="1.2" height="3.44" fill="#ffcdd2"/>
<rect x="499.78" y="492.50" width="1.2" height="0.97" fill="#ffcdd2"/>
<rect x="502.36" y="491.92" width="1.2" height="0.58" fill="#26a69a"/>
<rect x="504.94" y="490.66" width="1.2" height="1.84" fill="#26a69a"/>
<rect x="507.52" y="489.40" width="1.2" height="3.10" fill="#26a69a"/>
<rect x="510.10" y="488.14" width="1.2" height="4.36" fill="#26a69a"/>
<rect x="512.68" y="487.59" width="1.2" height="4.91" fill="#26a69a"/>
<rect x="515.26" y="487.76" width="1.2" height="4.74" fill="#b2dfdb"/>
<rect x="517.84" y="487.93" width="1.2" height="4.57" fill="#b2dfdb"/>
<rect x="520.42" y="488.10" width="1.2" height="4.40" fill="#b2dfdb"/>
<rect x="523.00" y="488.01" width="1.2" height="4.49" fill="#26a69a"/>
<rect x="525.58" y="487.75" width="1.2" height="4.75" fill="#26a69a"/>
<rect x="528.16" y="487.29" width="1.2" height="5.21" fill="#26a69a"/>
<rect x="530.74" y="486.75" width="1.2" height="5.75" fill="#26a69a"/>
<rect x="533.32" y="486.20" width="1.2" height="6.30" fill="#26a69a"/>
<rect x="535.90" y="485.65" width="1.2" height="6.85" fill="#26a69a"/>
<rect x="538.48" y="485.66" width="1.2" height="6.84" fill="#b2dfdb"/>
<rect x="541.06" y="485.80" width="1.2" height="6.70" fill="#b2dfdb"/>
<rect x="543.64" y="485.94" width="1.2" height="6.56" fill="#b2dfdb"/>
<rect x="546.22" y="486.08" width="1.2" height="6.42" fill="#b2dfdb"/>
<rect x="548.80" y="486.22" width="1.2" height="6.28" fill="#b2dfdb"/>
<rect x="551.38" y="488.35" width="1.2" height="4.15" fill="#b2dfdb"/>
<rect x="553.96" y="490.54" width="1.2" height="1.96" fill="#b2dfdb"/>
<rect x="556.54" y="492.13" width="1.2" height="0.37" fill="#b2dfdb"/>
<rect x="559.12" y="492.50" width="1.2" height="1.22" fill="#ef5350"/>
<rect x="561.70" y="492.50" width="1.2" height="2.61" fill="#ef5350"/>
<rect x="564.28" y="492.50" width="1.2" height="2.48" fill="#ffcdd2"/>
<rect x="566.86" y="492.50" width="1.2" height="2.35" fill="#ffcdd2"/>
<rect x="569.44" y="492.50" width="1.2" height="2.22" fill="#ffcdd2"/>
<rect x="572.02" y="492.50" width="1.2" height="2.09" fill="#ffcdd2"/>
<rect x="574.60" y="492.50" width="1.2" height="1.97" fill="#ffcdd2"/>
<rect x="577.18" y="492.50" width="1.2" height="1.89" fill="#ffcdd2"/>
<rect x="579.76" y="492.50" width="1.2" height="1.93" fill="#ef5350"/>
<rect x="582.34" y="492.50" width="1.2" height="1.97" fill="#ef5350"/>
<rect x="584.92" y="492.50" width="1.2" height="0.53" fill="#ffcdd2"/>
<rect x="587.50" y="492.50" width="1.2" height="0.17" fill="#ffcdd2"/>
<rect x="590.08" y="492.32" width="1.2" height="0.18" fill="#26a69a"/>
<rect x="592.66" y="491.66" width="1.2" height="0.84" fill="#26a69a"/>
<rect x="595.24" y="490.67" width="1.2" height="1.83" fill="#26a69a"/>
<rect x="597.82" y="489.69" width="1.2" height="2.81" fill="#26a69a"/>
<rect x="600.40" y="488.70" width="1.2" height="3.80" fill="#26a69a"/>
<rect x="602.98" y="487.71" width="1.2" height="4.79" fill="#26a69a"/>
<rect x="605.56" y="488.32" width="1.2" height="4.18" fill="#b2dfdb"/>
<rect x="608.14" y="489.82" width="1.2" height="2.68" fill="#b2dfdb"/>
<rect x="610.72" y="491.31" width="1.2" height="1.19" fill="#b2dfdb"/>
<rect x="613.30" y="492.16" width="1.2" height="0.34" fill="#b2dfdb"/>
<rect x="615.88" y="492.50" width="1.2" height="0.28" fill="#ef5350"/>
<rect x="618.46" y="492.50" width="1.2" height="0.98" fill="#ef5350"/>
<rect x="621.04" y="492.50" width="1.2" height="1.70" fill="#ef5350"/>
<rect x="623.62" y="492.50" width="1.2" height="2.42" fill="#ef5350"/>
<rect x="626.20" y="492.50" width="1.2" height="1.00" fill="#ffcdd2"/>
<rect x="628.78" y="491.81" width="1.2" height="0.69" fill="#26a69a"/>
<rect x="631.36" y="490.13" width="1.2" height="2.37" fill="#26a69a"/>
<rect x="633.94" y="490.81" width="1.2" height="1.69" fill="#b2dfdb"/>
<rect x="636.52" y="491.52" width="1.2" height="0.98" fill="#b2dfdb"/>
<rect x="639.10" y="492.12" width="1.2" height="0.38" fill="#b2dfdb"/>
<rect x="641.68" y="492.50" width="1.2" height="1.17" fill="#ef5350"/>
<rect x="644.26" y="492.50" width="1.2" height="2.72" fill="#ef5350"/>
<rect x="646.84" y="492.50" width="1.2" height="3.41" fill="#ef5350"/>
<rect x="649.42" y="492.47" width="1.2" height="0.03" fill="#26a69a"/>
<rect x="652.00" y="489.67" width="1.2" height="2.83" fill="#26a69a"/>
<rect x="654.58" y="488.99" width="1.2" height="3.51" fill="#26a69a"/>
<rect x="657.16" y="488.30" width="1.2" height="4.20" fill="#26a69a"/>
<rect x="659.74" y="487.61" width="1.2" height="4.89" fill="#26a69a"/>
<rect x="662.32" y="484.93" width="1.2" height="7.57" fill="#26a69a"/>
<rect x="664.90" y="478.65" width="1.2" height="13.85" fill="#26a69a"/>
<rect x="667.48" y="475.40" width="1.2" height="17.10" fill="#26a69a"/>
<rect x="670.06" y="476.34" width="1.2" height="16.16" fill="#b2dfdb"/>
<rect x="672.64" y="477.29" width="1.2" height="15.21" fill="#b2dfdb"/>
<rect x="675.22" y="478.23" width="1.2" height="14.27" fill="#b2dfdb"/>
<rect x="677.80" y="479.74" width="1.2" height="12.76" fill="#b2dfdb"/>
<rect x="680.38" y="481.72" width="1.2" height="10.78" fill="#b2dfdb"/>
<rect x="682.96" y="483.15" width="1.2" height="9.35" fill="#b2dfdb"/>
<rect x="685.54" y="484.23" width="1.2" height="8.27" fill="#b2dfdb"/>
<rect x="688.12" y="484.11" width="1.2" height="8.39" fill="#26a69a"/>
<rect x="690.70" y="483.38" width="1.2" height="9.12" fill="#26a69a"/>
<rect x="693.28" y="485.10" width="1.2" height="7.40" fill="#b2dfdb"/>
<rect x="695.86" y="487.73" width="1.2" height="4.77" fill="#b2dfdb"/>
<rect x="698.44" y="492.06" width="1.2" height="0.44" fill="#b2dfdb"/>
<rect x="701.02" y="492.50" width="1.2" height="2.93" fill="#ef5350"/>
<rect x="703.60" y="492.50" width="1.2" height="3.94" fill="#ef5350"/>
<rect x="706.18" y="492.50" width="1.2" height="4.54" fill="#ef5350"/>
<rect x="708.76" y="492.50" width="1.2" height="5.14" fill="#ef5350"/>
<rect x="711.34" y="492.50" width="1.2" height="5.74" fill="#ef5350"/>
<rect x="713.92" y="492.50" width="1.2" height="5.80" fill="#ef5350"/>
<rect x="716.50" y="492.50" width="1.2" height="6.22" fill="#ef5350"/>
<rect x="719.08" y="492.50" width="1.2" height="6.63" fill="#ef5350"/>
<rect x="721.66" y="492.50" width="1.2" height="6.89" fill="#ef5350"/>
<rect x="724.24" y="492.50" width="1.2" height="6.83" fill="#ffcdd2"/>
<rect x="726.82" y="492.50" width="1.2" height="6.48" fill="#ffcdd2"/>
<rect x="729.40" y="492.50" width="1.2" height="5.14" fill="#ffcdd2"/>
<rect x="731.98" y="492.50" width="1.2" height="3.80" fill="#ffcdd2"/>
<rect x="734.56" y="492.50" width="1.2" height="3.85" fill="#ef5350"/>
<rect x="737.14" y="492.50" width="1.2" height="5.74" fill="#ef5350"/>
<rect x="739.72" y="492.50" width="1.2" height="6.46" fill="#ef5350"/>
<rect x="742.30" y="492.50" width="1.2" height="5.73" fill="#ffcdd2"/>
<rect x="744.88" y="492.50" width="1.2" height="5.00" fill="#ffcdd2"/>
<rect x="747.46" y="492.50" width="1.2" height="4.27" fill="#ffcdd2"/>
<rect x="750.04" y="492.50" width="1.2" height="2.50" fill="#ffcdd2"/>
<rect x="752.62" y="492.50" width="1.2" height="0.29" fill="#ffcdd2"/>
<rect x="755.20" y="492.10" width="1.2" height="0.40" fill="#26a69a"/>
<rect x="757.78" y="492.50" width="1.2" height="1.86" fill="#ef5350"/>
<rect x="760.36" y="492.50" width="1.2" height="2.91" fill="#ef5350"/>
<rect x="762.94" y="492.50" width="1.2" height="4.59" fill="#ef5350"/>
<rect x="765.52" y="492.50" width="1.2" height="6.70" fill="#ef5350"/>
<rect x="768.10" y="492.50" width="1.2" height="8.80" fill="#ef5350"/>
<rect x="770.68" y="492.50" width="1.2" height="10.91" fill="#ef5350"/>
<rect x="773.26" y="492.50" width="1.2" height="9.27" fill="#ffcdd2"/>
<rect x="775.84" y="492.50" width="1.2" height="7.38" fill="#ffcdd2"/>
<rect x="778.42" y="492.50" width="1.2" height="5.50" fill="#ffcdd2"/>
<rect x="781.00" y="492.50" width="1.2" height="5.76" fill="#ef5350"/>
<rect x="783.58" y="492.50" width="1.2" height="5.98" fill="#ef5350"/>
<rect x="786.16" y="492.50" width="1.2" height="5.72" fill="#ffcdd2"/>
<rect x="788.74" y="492.50" width="1.2" height="5.71" fill="#ffcdd2"/>
<rect x="791.32" y="492.50" width="1.2" height="7.31" fill="#ef5350"/>
<rect x="793.90" y="492.50" width="1.2" height="8.26" fill="#ef5350"/>
<rect x="796.48" y="492.50" width="1.2" height="6.51" fill="#ffcdd2"/>
<rect x="799.06" y="492.50" width="1.2" height="4.75" fill="#ffcdd2"/>
<rect x="801.64" y="492.50" width="1.2" height="2.67" fill="#ffcdd2"/>
<rect x="804.22" y="492.28" width="1.2" height="0.22" fill="#26a69a"/>
<rect x="806.80" y="489.39" width="1.2" height="3.11" fill="#26a69a"/>
<rect x="809.38" y="489.71" width="1.2" height="2.79" fill="#b2dfdb"/>
<rect x="811.96" y="490.54" width="1.2" height="1.96" fill="#b2dfdb"/>
<rect x="814.54" y="491.61" width="1.2" height="0.89" fill="#b2dfdb"/>
<rect x="817.12" y="492.50" width="1.2" height="0.48" fill="#ef5350"/>
<rect x="819.70" y="492.50" width="1.2" height="1.86" fill="#ef5350"/>
<rect x="822.28" y="492.50" width="1.2" height="2.59" fill="#ef5350"/>
<rect x="824.86" y="492.50" width="1.2" height="2.76" fill="#ef5350"/>
<rect x="827.44" y="492.50" width="1.2" height="1.19" fill="#ffcdd2"/>
<rect x="830.02" y="492.29" width="1.2" height="0.21" fill="#26a69a"/>
<rect x="832.60" y="491.69" width="1.2" height="0.81" fill="#26a69a"/>
<rect x="835.18" y="489.78" width="1.2" height="2.72" fill="#26a69a"/>
<rect x="837.76" y="487.29" width="1.2" height="5.21" fill="#26a69a"/>
<rect x="840.34" y="485.56" width="1.2" height="6.94" fill="#26a69a"/>
<rect x="842.92" y="485.19" width="1.2" height="7.31" fill="#26a69a"/>
<rect x="845.50" y="484.46" width="1.2" height="8.04" fill="#26a69a"/>
<rect x="848.08" y="484.95" width="1.2" height="7.55" fill="#b2dfdb"/>
<rect x="850.66" y="485.68" width="1.2" height="6.82" fill="#b2dfdb"/>
<rect x="853.24" y="486.41" width="1.2" height="6.09" fill="#b2dfdb"/>
<rect x="855.82" y="487.14" width="1.2" height="5.36" fill="#b2dfdb"/>
<rect x="858.40" y="490.17" width="1.2" height="2.33" fill="#b2dfdb"/>
<rect x="860.98" y="491.63" width="1.2" height="0.87" fill="#b2dfdb"/>
<rect x="863.56" y="492.50" width="1.2" height="0.49" fill="#ef5350"/>
<rect x="866.14" y="492.50" width="1.2" height="0.41" fill="#ffcdd2"/>
<rect x="868.72" y="492.50" width="1.2" height="0.32" fill="#ffcdd2"/>
<rect x="871.30" y="492.50" width="1.2" height="0.66" fill="#ef5350"/>
<rect x="873.88" y="492.50" width="1.2" height="3.09" fill="#ef5350"/>
<rect x="876.46" y="492.50" width="1.2" height="4.47" fill="#ef5350"/>
<rect x="879.04" y="492.50" width="1.2" height="5.88" fill="#ef5350"/>
<rect x="881.62" y="492.50" width="1.2" height="7.43" fill="#ef5350"/>
<rect x="884.20" y="492.50" width="1.2" height="8.98" fill="#ef5350"/>
<rect x="886.78" y="492.50" width="1.2" height="9.93" fill="#ef5350"/>
<rect x="889.36" y="492.50" width="1.2" height="9.74" fill="#ffcdd2"/>
<rect x="891.94" y="492.50" width="1.2" height="9.55" fill="#ffcdd2"/>
<rect x="894.52" y="492.50" width="1.2" height="8.61" fill="#ffcdd2"/>
<rect x="897.10" y="492.50" width="1.2" height="6.70" fill="#ffcdd2"/>
<rect x="899.68" y="492.50" width="1.2" height="5.00" fill="#ffcdd2"/>
<line x1="900" y1="492.5" x2="952" y2="492.5" stroke="#d0a0a8" stroke-width="1" stroke-dasharray="3 3"/>
<path d="M0.00,469.00 C2.50,466.83 8.75,460.00 15.00,456.00 C21.25,452.00 31.67,445.58 37.50,445.00 C43.33,444.42 45.42,449.00 50.00,452.50 C54.58,456.00 59.17,462.67 65.00,466.00 C70.83,469.33 78.33,470.17 85.00,472.50 C91.67,474.83 99.58,478.33 105.00,480.00 C110.42,481.67 112.50,480.00 117.50,482.50 C122.50,485.00 128.75,492.25 135.00,495.00 C141.25,497.75 149.17,497.75 155.00,499.00 C160.83,500.25 164.17,502.17 170.00,502.50 C175.83,502.83 184.17,502.25 190.00,501.00 C195.83,499.75 200.00,498.08 205.00,495.00 C210.00,491.92 215.00,485.08 220.00,482.50 C225.00,479.92 229.00,479.83 235.00,479.50 C241.00,479.17 250.00,479.67 256.00,480.50 C262.00,481.33 264.75,482.08 271.00,484.50 C277.25,486.92 285.58,491.42 293.50,495.00 C301.42,498.58 309.75,503.33 318.50,506.00 C327.25,508.67 338.92,511.17 346.00,511.00 C353.08,510.83 356.00,508.58 361.00,505.00 C366.00,501.42 370.58,493.67 376.00,489.50 C381.42,485.33 388.50,480.92 393.50,480.00 C398.50,479.08 401.42,480.75 406.00,484.00 C410.58,487.25 416.00,496.33 421.00,499.50 C426.00,502.67 430.17,502.92 436.00,503.00 C441.83,503.08 450.17,501.50 456.00,500.00 C461.83,498.50 466.00,494.42 471.00,494.00 C476.00,493.58 481.00,496.08 486.00,497.50 C491.00,498.92 496.67,501.92 501.00,502.50 C505.33,503.08 507.67,502.67 512.00,501.00 C516.33,499.33 519.92,496.00 527.00,492.50 C534.08,489.00 544.92,480.50 554.50,480.00 C564.08,479.50 574.92,489.83 584.50,489.50 C594.08,489.17 603.25,480.25 612.00,478.00 C620.75,475.75 630.33,476.33 637.00,476.00 C643.67,475.67 647.00,478.67 652.00,476.00 C657.00,473.33 662.00,465.33 667.00,460.00 C672.00,454.67 676.83,448.58 682.00,444.00 C687.17,439.42 693.00,433.50 698.00,432.50 C703.00,431.50 707.58,435.75 712.00,438.00 C716.42,440.25 720.33,443.58 724.50,446.00 C728.67,448.42 732.42,450.58 737.00,452.50 C741.58,454.42 748.25,456.42 752.00,457.50 C755.75,458.58 755.83,456.25 759.50,459.00 C763.17,461.75 769.08,469.00 774.00,474.00 C778.92,479.00 784.42,485.92 789.00,489.00 C793.58,492.08 797.33,491.92 801.50,492.50 C805.67,493.08 809.42,492.17 814.00,492.50 C818.58,492.83 824.00,495.92 829.00,494.50 C834.00,493.08 839.00,487.08 844.00,484.00 C849.00,480.92 854.00,477.08 859.00,476.00 C864.00,474.92 869.42,476.00 874.00,477.50 C878.58,479.00 882.17,482.08 886.50,485.00 C890.83,487.92 897.75,493.33 900.00,495.00" fill="none" stroke="#f0964a" stroke-width="1.3"/>
<path d="M0.00,462.50 C1.83,460.42 8.50,452.42 11.00,450.00 C13.50,447.58 12.67,448.83 15.00,448.00 C17.33,447.17 21.50,446.17 25.00,445.00 C28.50,443.83 33.33,441.00 36.00,441.00 C38.67,441.00 39.50,443.08 41.00,445.00 C42.50,446.92 43.08,449.33 45.00,452.50 C46.92,455.67 49.58,460.17 52.50,464.00 C55.42,467.83 59.17,474.08 62.50,475.50 C65.83,476.92 69.17,473.00 72.50,472.50 C75.83,472.00 79.58,471.42 82.50,472.50 C85.42,473.58 87.25,477.42 90.00,479.00 C92.75,480.58 96.08,481.75 99.00,482.00 C101.92,482.25 104.83,480.17 107.50,480.50 C110.17,480.83 111.67,480.75 115.00,484.00 C118.33,487.25 123.33,497.75 127.50,500.00 C131.67,502.25 135.42,497.58 140.00,497.50 C144.58,497.42 150.83,498.08 155.00,499.50 C159.17,500.92 161.67,505.75 165.00,506.00 C168.33,506.25 170.83,501.83 175.00,501.00 C179.17,500.17 185.83,502.00 190.00,501.00 C194.17,500.00 195.83,498.67 200.00,495.00 C204.17,491.33 210.00,481.83 215.00,479.00 C220.00,476.17 225.00,477.33 230.00,478.00 C235.00,478.67 240.67,482.58 245.00,483.00 C249.33,483.42 252.50,480.58 256.00,480.50 C259.50,480.42 262.25,480.75 266.00,482.50 C269.75,484.25 273.92,488.25 278.50,491.00 C283.08,493.75 289.33,496.58 293.50,499.00 C297.67,501.42 300.17,503.83 303.50,505.50 C306.83,507.17 310.58,508.92 313.50,509.00 C316.42,509.08 318.92,506.33 321.00,506.00 C323.08,505.67 323.92,505.83 326.00,507.00 C328.08,508.17 331.00,511.83 333.50,513.00 C336.00,514.17 338.25,514.50 341.00,514.00 C343.75,513.50 347.08,513.00 350.00,510.00 C352.92,507.00 355.83,500.00 358.50,496.00 C361.17,492.00 363.50,488.67 366.00,486.00 C368.50,483.33 370.58,481.17 373.50,480.00 C376.42,478.83 380.58,479.50 383.50,479.00 C386.42,478.50 388.50,476.67 391.00,477.00 C393.50,477.33 396.00,478.67 398.50,481.00 C401.00,483.33 403.25,486.33 406.00,491.00 C408.75,495.67 412.08,506.75 415.00,509.00 C417.92,511.25 420.00,505.33 423.50,504.50 C427.00,503.67 431.83,504.67 436.00,504.00 C440.17,503.33 444.33,503.50 448.50,500.50 C452.67,497.50 457.67,487.58 461.00,486.00 C464.33,484.42 465.17,489.08 468.50,491.00 C471.83,492.92 476.42,495.00 481.00,497.50 C485.58,500.00 490.83,506.25 496.00,506.00 C501.17,505.75 507.67,498.50 512.00,496.00 C516.33,493.50 517.83,493.50 522.00,491.00 C526.17,488.50 532.42,483.50 537.00,481.00 C541.58,478.50 546.58,476.50 549.50,476.00 C552.42,475.50 552.42,476.50 554.50,478.00 C556.58,479.50 558.25,483.17 562.00,485.00 C565.75,486.83 573.50,488.00 577.00,489.00 C580.50,490.00 580.50,491.50 583.00,491.00 C585.50,490.50 588.42,488.50 592.00,486.00 C595.58,483.50 600.33,477.33 604.50,476.00 C608.67,474.67 613.67,477.42 617.00,478.00 C620.33,478.58 622.00,480.17 624.50,479.50 C627.00,478.83 629.50,474.67 632.00,474.00 C634.50,473.33 637.00,474.50 639.50,475.50 C642.00,476.50 644.50,480.92 647.00,480.00 C649.50,479.08 652.00,473.33 654.50,470.00 C657.00,466.67 659.92,464.58 662.00,460.00 C664.08,455.42 664.50,446.58 667.00,442.50 C669.50,438.42 673.67,437.17 677.00,435.50 C680.33,433.83 684.50,433.83 687.00,432.50 C689.50,431.17 690.33,428.08 692.00,427.50 C693.67,426.92 695.33,427.33 697.00,429.00 C698.67,430.67 699.17,434.83 702.00,437.50 C704.83,440.17 710.75,442.75 714.00,445.00 C717.25,447.25 719.42,449.50 721.50,451.00 C723.58,452.50 724.42,453.50 726.50,454.00 C728.58,454.50 731.92,453.00 734.00,454.00 C736.08,455.00 736.50,458.92 739.00,460.00 C741.50,461.08 746.33,461.00 749.00,460.50 C751.67,460.00 752.92,456.42 755.00,457.00 C757.08,457.58 758.75,459.75 761.50,464.00 C764.25,468.25 768.58,479.08 771.50,482.50 C774.42,485.92 776.92,483.25 779.00,484.50 C781.08,485.75 781.50,487.58 784.00,490.00 C786.50,492.42 791.08,498.00 794.00,499.00 C796.92,500.00 799.21,497.67 801.50,496.00 C803.79,494.33 805.67,489.83 807.75,489.00 C809.83,488.17 811.71,489.83 814.00,491.00 C816.29,492.17 819.42,495.00 821.50,496.00 C823.58,497.00 824.42,498.00 826.50,497.00 C828.58,496.00 831.75,492.83 834.00,490.00 C836.25,487.17 837.92,482.58 840.00,480.00 C842.08,477.42 843.75,475.83 846.50,474.50 C849.25,473.17 853.58,471.58 856.50,472.00 C859.42,472.42 861.50,476.08 864.00,477.00 C866.50,477.92 869.00,476.00 871.50,477.50 C874.00,479.00 876.50,483.08 879.00,486.00 C881.50,488.92 884.00,492.67 886.50,495.00 C889.00,497.33 891.75,499.17 894.00,500.00 C896.25,500.83 899.00,500.00 900.00,500.00" fill="none" stroke="#4f7be0" stroke-width="1.3"/>
<circle cx="900.5" cy="403.3" r="8.8" fill="#fff" stroke="#9444b0" stroke-width="1.6"/>
<path d="M903.9 398.6 L897.3 404.1 H900.9 L897.9 408.6 L904.5 402.9 H900.9 Z" fill="#9444b0"/>
<text x="8" y="19.5" textLength="123.0" lengthAdjust="spacingAndGlyphs" font-size="11" fill="#b2b5be" font-weight="normal" stroke="#b2b5be" stroke-width="0.12">BTCUSDT SPOT, 1D, BYBIT</text>
<text x="139.5" y="19.5" textLength="6.5" lengthAdjust="spacingAndGlyphs" font-size="11" fill="#b2b5be" font-weight="normal" stroke="#b2b5be" stroke-width="0.12">O</text>
<text x="146" y="19.5" textLength="48.5" lengthAdjust="spacingAndGlyphs" font-size="11" fill="#22a28a" font-weight="normal" stroke="#22a28a" stroke-width="0.12">97,435.56</text>
<text x="201" y="19.5" textLength="7.0" lengthAdjust="spacingAndGlyphs" font-size="11" fill="#b2b5be" font-weight="normal" stroke="#b2b5be" stroke-width="0.12">H</text>
<text x="208" y="19.5" textLength="47.5" lengthAdjust="spacingAndGlyphs" font-size="11" fill="#22a28a" font-weight="normal" stroke="#22a28a" stroke-width="0.12">98,493.17</text>
<text x="263" y="19.5" textLength="5.0" lengthAdjust="spacingAndGlyphs" font-size="11" fill="#b2b5be" font-weight="normal" stroke="#b2b5be" stroke-width="0.12">L</text>
<text x="268" y="19.5" textLength="47.5" lengthAdjust="spacingAndGlyphs" font-size="11" fill="#22a28a" font-weight="normal" stroke="#22a28a" stroke-width="0.12">97,420.72</text>
<text x="323" y="19.5" textLength="5.5" lengthAdjust="spacingAndGlyphs" font-size="11" fill="#b2b5be" font-weight="normal" stroke="#b2b5be" stroke-width="0.12">C</text>
<text x="328.5" y="19.5" textLength="47.5" lengthAdjust="spacingAndGlyphs" font-size="11" fill="#22a28a" font-weight="normal" stroke="#22a28a" stroke-width="0.12">98,304.63</text>
<text x="383.5" y="19.5" textLength="82.0" lengthAdjust="spacingAndGlyphs" font-size="11" fill="#22a28a" font-weight="normal" stroke="#22a28a" stroke-width="0.12">+869.07 (+0.89%)</text>
<text x="8" y="34.7" textLength="86.0" lengthAdjust="spacingAndGlyphs" font-size="11" fill="#b2b5be" font-weight="normal" stroke="#b2b5be" stroke-width="0.12">EMA Cross 50/200</text>
<text x="100.5" y="34.7" textLength="47.0" lengthAdjust="spacingAndGlyphs" font-size="11" fill="#e0434f" font-weight="normal" stroke="#e0434f" stroke-width="0.12">98,391.28</text>
<text x="155" y="34.7" textLength="47.0" lengthAdjust="spacingAndGlyphs" font-size="11" fill="#3d3dc4" font-weight="normal" stroke="#3d3dc4" stroke-width="0.12">84,177.45</text>
<text x="209" y="34.7" textLength="5.5" lengthAdjust="spacingAndGlyphs" font-size="9" fill="#b2b5be" font-weight="normal" stroke="#b2b5be" stroke-width="0.12">∅</text>
<text x="8" y="433.8" textLength="100.0" lengthAdjust="spacingAndGlyphs" font-size="11" fill="#b2b5be" font-weight="normal" stroke="#b2b5be" stroke-width="0.12">MACD (12, 26, close)</text>
<text x="116" y="433.8" textLength="36.5" lengthAdjust="spacingAndGlyphs" font-size="11" fill="#f8c4cf" font-weight="normal" stroke="#f8c4cf" stroke-width="0.12">−490.10</text>
<text x="160" y="433.8" textLength="37.5" lengthAdjust="spacingAndGlyphs" font-size="11" fill="#4f74d8" font-weight="normal" stroke="#4f74d8" stroke-width="0.12">−875.08</text>
<text x="204.5" y="433.8" textLength="37.5" lengthAdjust="spacingAndGlyphs" font-size="11" fill="#ef8a36" font-weight="normal" stroke="#ef8a36" stroke-width="0.12">−384.98</text>
<text x="77" y="540.5" textLength="15.5" lengthAdjust="spacingAndGlyphs" font-size="11" fill="#b2b5be" font-weight="normal" stroke="#b2b5be" stroke-width="0.12">Apr</text>
<text x="153" y="540.5" textLength="18.5" lengthAdjust="spacingAndGlyphs" font-size="11" fill="#b2b5be" font-weight="normal" stroke="#b2b5be" stroke-width="0.12">May</text>
<text x="234.5" y="540.5" textLength="16.0" lengthAdjust="spacingAndGlyphs" font-size="11" fill="#b2b5be" font-weight="normal" stroke="#b2b5be" stroke-width="0.12">Jun</text>
<text x="313" y="540.5" textLength="14.0" lengthAdjust="spacingAndGlyphs" font-size="11" fill="#b2b5be" font-weight="normal" stroke="#b2b5be" stroke-width="0.12">Jul</text>
<text x="391" y="540.5" textLength="18.0" lengthAdjust="spacingAndGlyphs" font-size="11" fill="#b2b5be" font-weight="normal" stroke="#b2b5be" stroke-width="0.12">Aug</text>
<text x="471.5" y="540.5" textLength="17.5" lengthAdjust="spacingAndGlyphs" font-size="11" fill="#b2b5be" font-weight="normal" stroke="#b2b5be" stroke-width="0.12">Sep</text>
<text x="549" y="540.5" textLength="16.0" lengthAdjust="spacingAndGlyphs" font-size="11" fill="#b2b5be" font-weight="normal" stroke="#b2b5be" stroke-width="0.12">Oct</text>
<text x="628.5" y="540.5" textLength="18.0" lengthAdjust="spacingAndGlyphs" font-size="11" fill="#b2b5be" font-weight="normal" stroke="#b2b5be" stroke-width="0.12">Nov</text>
<text x="706" y="540.5" textLength="18.0" lengthAdjust="spacingAndGlyphs" font-size="11" fill="#b2b5be" font-weight="normal" stroke="#b2b5be" stroke-width="0.12">Dec</text>
<text x="866" y="540.5" textLength="17.5" lengthAdjust="spacingAndGlyphs" font-size="11" fill="#b2b5be" font-weight="normal" stroke="#b2b5be" stroke-width="0.12">Feb</text>
<text x="-6" y="540.5" textLength="19.0" lengthAdjust="spacingAndGlyphs" font-size="11" fill="#b2b5be" font-weight="normal" stroke="#b2b5be" stroke-width="0.12">Mar</text>
<text x="782.5" y="540.5" textLength="25.0" lengthAdjust="spacingAndGlyphs" font-size="11" fill="#a9acb5" font-weight="bold" stroke="#a9acb5" stroke-width="0.12">2025</text>
<g clip-path="url(#mc)"><text x="938" y="540.5" textLength="19.0" lengthAdjust="spacingAndGlyphs" font-size="11" fill="#b2b5be" font-weight="normal" stroke="#b2b5be" stroke-width="0.12">Mar</text></g><clipPath id="mc"><rect x="900" y="520" width="52" height="30"/></clipPath>
<text x="959" y="77.2" textLength="53.0" lengthAdjust="spacingAndGlyphs" font-size="11" fill="#b2b5be" font-weight="normal" stroke="#b2b5be" stroke-width="0.12">105,000.00</text>
<text x="959" y="142.2" textLength="48.0" lengthAdjust="spacingAndGlyphs" font-size="11" fill="#b2b5be" font-weight="normal" stroke="#b2b5be" stroke-width="0.12">95,000.00</text>
<text x="959" y="203.2" textLength="48.0" lengthAdjust="spacingAndGlyphs" font-size="11" fill="#b2b5be" font-weight="normal" stroke="#b2b5be" stroke-width="0.12">85,000.00</text>
<text x="959" y="237.2" textLength="48.0" lengthAdjust="spacingAndGlyphs" font-size="11" fill="#b2b5be" font-weight="normal" stroke="#b2b5be" stroke-width="0.12">80,000.00</text>
<text x="959" y="267.7" textLength="48.0" lengthAdjust="spacingAndGlyphs" font-size="11" fill="#b2b5be" font-weight="normal" stroke="#b2b5be" stroke-width="0.12">75,000.00</text>
<text x="959" y="300.7" textLength="48.0" lengthAdjust="spacingAndGlyphs" font-size="11" fill="#b2b5be" font-weight="normal" stroke="#b2b5be" stroke-width="0.12">70,000.00</text>
<text x="959" y="333.2" textLength="48.0" lengthAdjust="spacingAndGlyphs" font-size="11" fill="#b2b5be" font-weight="normal" stroke="#b2b5be" stroke-width="0.12">65,000.00</text>
<text x="959" y="395.2" textLength="48.0" lengthAdjust="spacingAndGlyphs" font-size="11" fill="#b2b5be" font-weight="normal" stroke="#b2b5be" stroke-width="0.12">55,000.00</text>
<text x="960" y="458.2" textLength="42.0" lengthAdjust="spacingAndGlyphs" font-size="11" fill="#b2b5be" font-weight="normal" stroke="#b2b5be" stroke-width="0.12">4,000.00</text>
<g clip-path="url(#c8)"><text x="960" y="421.8" textLength="42.0" lengthAdjust="spacingAndGlyphs" font-size="11" fill="#b2b5be" font-weight="normal" stroke="#b2b5be" stroke-width="0.12">8,000.00</text></g><clipPath id="c8"><rect x="952" y="417" width="60" height="10"/></clipPath>
<rect x="952" y="35.6" width="66" height="15.100000000000001" rx="2" fill="#000000"/>
<text x="960.6" y="47.150000000000006" textLength="52.9" lengthAdjust="spacingAndGlyphs" font-size="11" fill="#ffffff" font-weight="normal" stroke="#ffffff" stroke-width="0.3">110,000.00</text>
<rect x="952" y="80" width="66" height="14.5" rx="2" fill="#000000"/>
<text x="960.6" y="91.25" textLength="52.9" lengthAdjust="spacingAndGlyphs" font-size="11" fill="#ffffff" font-weight="normal" stroke="#ffffff" stroke-width="0.3">100,000.00</text>
<rect x="952" y="95" width="60" height="14.5" rx="2" fill="#ff0000"/>
<text x="960" y="106.25" textLength="47.0" lengthAdjust="spacingAndGlyphs" font-size="11" fill="#ffffff" font-weight="normal" stroke="#ffffff" stroke-width="0.3">98,391.28</text>
<rect x="952" y="110.5" width="60" height="26.5" rx="2" fill="#089981"/>
<text x="960" y="121.5" textLength="47.0" lengthAdjust="spacingAndGlyphs" font-size="11" fill="#ffffff" font-weight="normal" stroke="#ffffff" stroke-width="0.3">98,304.63</text>
<text x="960" y="133.7" textLength="41.5" lengthAdjust="spacingAndGlyphs" font-size="11" fill="#ffffff" font-weight="normal" stroke="#ffffff" stroke-width="0.3">17:26:44</text>
<rect x="952" y="164" width="60" height="14.5" rx="2" fill="#000000"/>
<text x="960" y="175.25" textLength="47.0" lengthAdjust="spacingAndGlyphs" font-size="11" fill="#ffffff" font-weight="normal" stroke="#ffffff" stroke-width="0.3">90,000.00</text>
<rect x="952" y="200.3" width="60" height="14.699999999999989" rx="2" fill="#0000ff"/>
<text x="960" y="211.65" textLength="47.0" lengthAdjust="spacingAndGlyphs" font-size="11" fill="#ffffff" font-weight="normal" stroke="#ffffff" stroke-width="0.3">84,177.45</text>
<rect x="952" y="217.5" width="60" height="14.5" rx="2" fill="#000000"/>
<text x="960" y="228.75" textLength="47.0" lengthAdjust="spacingAndGlyphs" font-size="11" fill="#ffffff" font-weight="normal" stroke="#ffffff" stroke-width="0.3">81,605.00</text>
<rect x="952" y="272" width="60" height="14.5" rx="2" fill="#000000"/>
<text x="960" y="283.25" textLength="47.0" lengthAdjust="spacingAndGlyphs" font-size="11" fill="#ffffff" font-weight="normal" stroke="#ffffff" stroke-width="0.3">73,000.00</text>
<rect x="952" y="311.6" width="60" height="14.399999999999977" rx="2" fill="#000000"/>
<text x="960" y="322.8" textLength="47.0" lengthAdjust="spacingAndGlyphs" font-size="11" fill="#ffffff" font-weight="normal" stroke="#ffffff" stroke-width="0.3">66,726.25</text>
<rect x="952" y="353.6" width="60" height="14.399999999999977" rx="2" fill="#000000"/>
<text x="960" y="364.8" textLength="47.0" lengthAdjust="spacingAndGlyphs" font-size="11" fill="#ffffff" font-weight="normal" stroke="#ffffff" stroke-width="0.3">60,178.50</text>
<rect x="952" y="396" width="60" height="14.5" rx="2" fill="#000000"/>
<text x="960" y="407.25" textLength="47.0" lengthAdjust="spacingAndGlyphs" font-size="11" fill="#ffffff" font-weight="normal" stroke="#ffffff" stroke-width="0.3">53,446.50</text>
<rect x="952" y="474" width="50" height="14.600000000000023" rx="2" fill="#ff6d00"/>
<text x="958" y="485.3" textLength="40.0" lengthAdjust="spacingAndGlyphs" font-size="11" fill="#ffffff" font-weight="normal" stroke="#ffffff" stroke-width="0.3">−384.98</text>
<rect x="952" y="489.4" width="50" height="15.100000000000023" rx="2" fill="#ffcdd2"/>
<text x="958" y="500.95" textLength="40.0" lengthAdjust="spacingAndGlyphs" font-size="11" fill="#131722" font-weight="normal" stroke="#131722" stroke-width="0.3">−490.10</text>
<rect x="952" y="505" width="50" height="14.5" rx="2" fill="#2962ff"/>
<text x="958" y="516.25" textLength="40.0" lengthAdjust="spacingAndGlyphs" font-size="11" fill="#ffffff" font-weight="normal" stroke="#ffffff" stroke-width="0.3">−875.08</text>
<path d="M1.2 560.9 H7.6 V569 H4.3 V563.6 H1.2 Z" fill="#131722"/>
<circle cx="10.7" cy="562.5" r="1.7" fill="#131722"/>
<path d="M13.6 560.9 H18.3 L15.1 569 H10.9 Z" fill="#131722"/>
<text x="22" y="569.5" textLength="63" lengthAdjust="spacingAndGlyphs" font-size="12" fill="#2a2e39">TradingView</text>
</svg>
</body></html>
